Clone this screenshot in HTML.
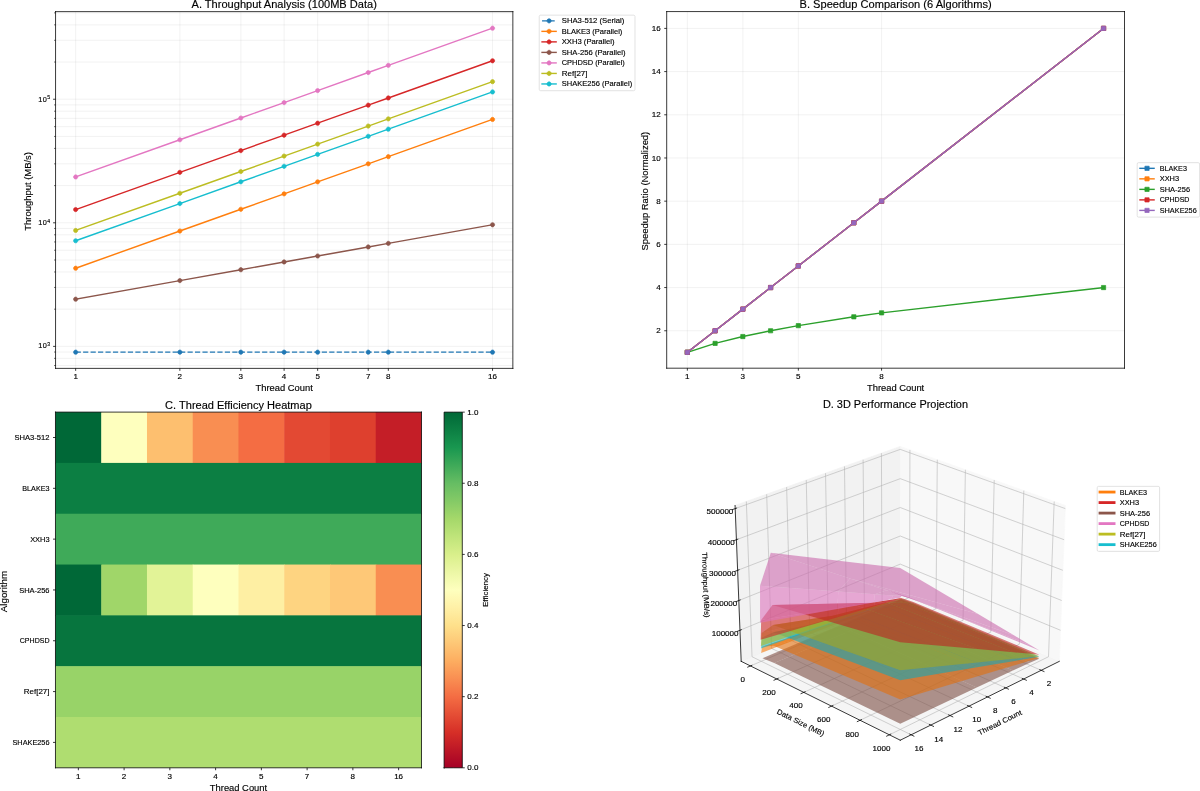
<!DOCTYPE html>
<html><head><meta charset="utf-8"><style>html,body{margin:0;padding:0;background:#fff;}svg{display:block;filter:blur(0.35px);}text{stroke:#000;stroke-width:0.2px;}</style></head><body>
<svg width="1200" height="791" viewBox="0 0 1705.514497 1124.218306" version="1.1">
 <defs>
  <style type="text/css">*{stroke-linejoin: round; stroke-linecap: butt}</style>
 </defs>
 <g id="figure_1">
  <g id="patch_1">
   <path d="M 0 1124.218306 
L 1705.514497 1124.218306 
L 1705.514497 0 
L 0 0 
z
" style="fill: #ffffff"/>
  </g>
  <g id="axes_1">
   <g id="patch_2">
    <path d="M 78.965321 523.564525 
L 728.894258 523.564525 
L 728.894258 16.529278 
L 78.965321 16.529278 
z
" style="fill: #ffffff"/>
   </g>
   <g id="matplotlib.axis_1">
    <g id="xtick_1">
     <g id="line2d_1">
      <path d="M 107.52386 523.564525 
L 107.52386 16.529278 
" clip-path="url(#p1c3994e8c0)" style="fill: none; stroke: #b0b0b0; stroke-opacity: 0.3; stroke-width: 0.8; stroke-linecap: square"/>
     </g>
     <g id="line2d_2">
      <defs>
       <path id="mcb6896031c" d="M 0 0 
L 0 3.5 
" style="stroke: #000000; stroke-width: 1.1"/>
      </defs>
      <g>
       <use href="#mcb6896031c" x="107.52386" y="523.564525" style="stroke: #000000; stroke-width: 1.1"/>
      </g>
     </g>
     <g id="text_1">
      <text style="font-size: 10.400px; font-family: 'Liberation Sans'; text-anchor: middle" x="107.52386" y="538.862963" transform="rotate(-0 107.52386 538.862963)" textLength="6.363" lengthAdjust="spacingAndGlyphs">1</text>
     </g>
    </g>
    <g id="xtick_2">
     <g id="line2d_3">
      <path d="M 255.649059 523.564525 
L 255.649059 16.529278 
" clip-path="url(#p1c3994e8c0)" style="fill: none; stroke: #b0b0b0; stroke-opacity: 0.3; stroke-width: 0.8; stroke-linecap: square"/>
     </g>
     <g id="line2d_4">
      <g>
       <use href="#mcb6896031c" x="255.649059" y="523.564525" style="stroke: #000000; stroke-width: 1.1"/>
      </g>
     </g>
     <g id="text_2">
      <text style="font-size: 10.400px; font-family: 'Liberation Sans'; text-anchor: middle" x="255.649059" y="538.862963" transform="rotate(-0 255.649059 538.862963)" textLength="6.363" lengthAdjust="spacingAndGlyphs">2</text>
     </g>
    </g>
    <g id="xtick_3">
     <g id="line2d_5">
      <path d="M 342.296746 523.564525 
L 342.296746 16.529278 
" clip-path="url(#p1c3994e8c0)" style="fill: none; stroke: #b0b0b0; stroke-opacity: 0.3; stroke-width: 0.8; stroke-linecap: square"/>
     </g>
     <g id="line2d_6">
      <g>
       <use href="#mcb6896031c" x="342.296746" y="523.564525" style="stroke: #000000; stroke-width: 1.1"/>
      </g>
     </g>
     <g id="text_3">
      <text style="font-size: 10.400px; font-family: 'Liberation Sans'; text-anchor: middle" x="342.296746" y="538.862963" transform="rotate(-0 342.296746 538.862963)" textLength="6.363" lengthAdjust="spacingAndGlyphs">3</text>
     </g>
    </g>
    <g id="xtick_4">
     <g id="line2d_7">
      <path d="M 403.774258 523.564525 
L 403.774258 16.529278 
" clip-path="url(#p1c3994e8c0)" style="fill: none; stroke: #b0b0b0; stroke-opacity: 0.3; stroke-width: 0.8; stroke-linecap: square"/>
     </g>
     <g id="line2d_8">
      <g>
       <use href="#mcb6896031c" x="403.774258" y="523.564525" style="stroke: #000000; stroke-width: 1.1"/>
      </g>
     </g>
     <g id="text_4">
      <text style="font-size: 10.400px; font-family: 'Liberation Sans'; text-anchor: middle" x="403.774258" y="538.862963" transform="rotate(-0 403.774258 538.862963)" textLength="6.363" lengthAdjust="spacingAndGlyphs">4</text>
     </g>
    </g>
    <g id="xtick_5">
     <g id="line2d_9">
      <path d="M 451.459921 523.564525 
L 451.459921 16.529278 
" clip-path="url(#p1c3994e8c0)" style="fill: none; stroke: #b0b0b0; stroke-opacity: 0.3; stroke-width: 0.8; stroke-linecap: square"/>
     </g>
     <g id="line2d_10">
      <g>
       <use href="#mcb6896031c" x="451.459921" y="523.564525" style="stroke: #000000; stroke-width: 1.1"/>
      </g>
     </g>
     <g id="text_5">
      <text style="font-size: 10.400px; font-family: 'Liberation Sans'; text-anchor: middle" x="451.459921" y="538.862963" transform="rotate(-0 451.459921 538.862963)" textLength="6.363" lengthAdjust="spacingAndGlyphs">5</text>
     </g>
    </g>
    <g id="xtick_6">
     <g id="line2d_11">
      <path d="M 523.363867 523.564525 
L 523.363867 16.529278 
" clip-path="url(#p1c3994e8c0)" style="fill: none; stroke: #b0b0b0; stroke-opacity: 0.3; stroke-width: 0.8; stroke-linecap: square"/>
     </g>
     <g id="line2d_12">
      <g>
       <use href="#mcb6896031c" x="523.363867" y="523.564525" style="stroke: #000000; stroke-width: 1.1"/>
      </g>
     </g>
     <g id="text_6">
      <text style="font-size: 10.400px; font-family: 'Liberation Sans'; text-anchor: middle" x="523.363867" y="538.862963" transform="rotate(-0 523.363867 538.862963)" textLength="6.363" lengthAdjust="spacingAndGlyphs">7</text>
     </g>
    </g>
    <g id="xtick_7">
     <g id="line2d_13">
      <path d="M 551.899457 523.564525 
L 551.899457 16.529278 
" clip-path="url(#p1c3994e8c0)" style="fill: none; stroke: #b0b0b0; stroke-opacity: 0.3; stroke-width: 0.8; stroke-linecap: square"/>
     </g>
     <g id="line2d_14">
      <g>
       <use href="#mcb6896031c" x="551.899457" y="523.564525" style="stroke: #000000; stroke-width: 1.1"/>
      </g>
     </g>
     <g id="text_7">
      <text style="font-size: 10.400px; font-family: 'Liberation Sans'; text-anchor: middle" x="551.899457" y="538.862963" transform="rotate(-0 551.899457 538.862963)" textLength="6.363" lengthAdjust="spacingAndGlyphs">8</text>
     </g>
    </g>
    <g id="xtick_8">
     <g id="line2d_15">
      <path d="M 700.024657 523.564525 
L 700.024657 16.529278 
" clip-path="url(#p1c3994e8c0)" style="fill: none; stroke: #b0b0b0; stroke-opacity: 0.3; stroke-width: 0.8; stroke-linecap: square"/>
     </g>
     <g id="line2d_16">
      <g>
       <use href="#mcb6896031c" x="700.024657" y="523.564525" style="stroke: #000000; stroke-width: 1.1"/>
      </g>
     </g>
     <g id="text_8">
      <text style="font-size: 10.400px; font-family: 'Liberation Sans'; text-anchor: middle" x="700.024657" y="538.862963" transform="rotate(-0 700.024657 538.862963)" textLength="12.725" lengthAdjust="spacingAndGlyphs">16</text>
     </g>
    </g>
    <g id="text_9">
     <text style="font-size: 12.480px; font-family: 'Liberation Sans'; text-anchor: middle" x="403.92979" y="555.910775" transform="rotate(-0 403.92979 555.910775)" textLength="81.403" lengthAdjust="spacingAndGlyphs">Thread Count</text>
    </g>
   </g>
   <g id="matplotlib.axis_2">
    <g id="ytick_1">
     <g id="line2d_17">
      <path d="M 78.965321 492.297861 
L 728.894258 492.297861 
" clip-path="url(#p1c3994e8c0)" style="fill: none; stroke: #b0b0b0; stroke-opacity: 0.3; stroke-width: 0.8; stroke-linecap: square"/>
     </g>
     <g id="line2d_18">
      <defs>
       <path id="mef8e797f4b" d="M 0 0 
L -3.5 0 
" style="stroke: #000000; stroke-width: 1.1"/>
      </defs>
      <g>
       <use href="#mef8e797f4b" x="78.965321" y="492.297861" style="stroke: #000000; stroke-width: 1.1"/>
      </g>
     </g>
     <g id="text_10">
      <!-- $\mathdefault{10^{3}}$ -->
      <g transform="translate(54.365321 496.09708)">
       <text>
        <tspan x="0" y="-0.976562" style="font-size: 10.400px; font-family: 'Liberation Sans'">1</tspan>
        <tspan x="6.362305" y="-0.976562" style="font-size: 10.400px; font-family: 'Liberation Sans'">0</tspan>
        <tspan x="12.820312" y="-4.804688" style="font-size: 7.280px; font-family: 'Liberation Sans'">3</tspan>
       </text>
      </g>
     </g>
    </g>
    <g id="ytick_2">
     <g id="line2d_19">
      <path d="M 78.965321 316.672044 
L 728.894258 316.672044 
" clip-path="url(#p1c3994e8c0)" style="fill: none; stroke: #b0b0b0; stroke-opacity: 0.3; stroke-width: 0.8; stroke-linecap: square"/>
     </g>
     <g id="line2d_20">
      <g>
       <use href="#mef8e797f4b" x="78.965321" y="316.672044" style="stroke: #000000; stroke-width: 1.1"/>
      </g>
     </g>
     <g id="text_11">
      <!-- $\mathdefault{10^{4}}$ -->
      <g transform="translate(54.365321 320.471262)">
       <text>
        <tspan x="0" y="-0.064063" style="font-size: 10.400px; font-family: 'Liberation Sans'">1</tspan>
        <tspan x="6.362305" y="-0.064063" style="font-size: 10.400px; font-family: 'Liberation Sans'">0</tspan>
        <tspan x="12.820312" y="-3.892188" style="font-size: 7.280px; font-family: 'Liberation Sans'">4</tspan>
       </text>
      </g>
     </g>
    </g>
    <g id="ytick_3">
     <g id="line2d_21">
      <path d="M 78.965321 141.046226 
L 728.894258 141.046226 
" clip-path="url(#p1c3994e8c0)" style="fill: none; stroke: #b0b0b0; stroke-opacity: 0.3; stroke-width: 0.8; stroke-linecap: square"/>
     </g>
     <g id="line2d_22">
      <g>
       <use href="#mef8e797f4b" x="78.965321" y="141.046226" style="stroke: #000000; stroke-width: 1.1"/>
      </g>
     </g>
     <g id="text_12">
      <!-- $\mathdefault{10^{5}}$ -->
      <g transform="translate(54.365321 144.845445)">
       <text>
        <tspan x="0" y="-0.064063" style="font-size: 10.400px; font-family: 'Liberation Sans'">1</tspan>
        <tspan x="6.362305" y="-0.064063" style="font-size: 10.400px; font-family: 'Liberation Sans'">0</tspan>
        <tspan x="12.820312" y="-3.892188" style="font-size: 7.280px; font-family: 'Liberation Sans'">5</tspan>
       </text>
      </g>
     </g>
    </g>
    <g id="ytick_4">
     <g id="line2d_23">
      <path d="M 78.965321 519.502644 
L 728.894258 519.502644 
" clip-path="url(#p1c3994e8c0)" style="fill: none; stroke: #b0b0b0; stroke-opacity: 0.3; stroke-width: 0.8; stroke-linecap: square"/>
     </g>
     <g id="line2d_24">
      <defs>
       <path id="m4e1941caa4" d="M 0 0 
L -2 0 
" style="stroke: #000000; stroke-width: 0.9"/>
      </defs>
      <g>
       <use href="#m4e1941caa4" x="78.965321" y="519.502644" style="stroke: #000000; stroke-width: 0.9"/>
      </g>
     </g>
    </g>
    <g id="ytick_5">
     <g id="line2d_25">
      <path d="M 78.965321 509.317761 
L 728.894258 509.317761 
" clip-path="url(#p1c3994e8c0)" style="fill: none; stroke: #b0b0b0; stroke-opacity: 0.3; stroke-width: 0.8; stroke-linecap: square"/>
     </g>
     <g id="line2d_26">
      <g>
       <use href="#m4e1941caa4" x="78.965321" y="509.317761" style="stroke: #000000; stroke-width: 0.9"/>
      </g>
     </g>
    </g>
    <g id="ytick_6">
     <g id="line2d_27">
      <path d="M 78.965321 500.334058 
L 728.894258 500.334058 
" clip-path="url(#p1c3994e8c0)" style="fill: none; stroke: #b0b0b0; stroke-opacity: 0.3; stroke-width: 0.8; stroke-linecap: square"/>
     </g>
     <g id="line2d_28">
      <g>
       <use href="#m4e1941caa4" x="78.965321" y="500.334058" style="stroke: #000000; stroke-width: 0.9"/>
      </g>
     </g>
    </g>
    <g id="ytick_7">
     <g id="line2d_29">
      <path d="M 78.965321 439.429222 
L 728.894258 439.429222 
" clip-path="url(#p1c3994e8c0)" style="fill: none; stroke: #b0b0b0; stroke-opacity: 0.3; stroke-width: 0.8; stroke-linecap: square"/>
     </g>
     <g id="line2d_30">
      <g>
       <use href="#m4e1941caa4" x="78.965321" y="439.429222" style="stroke: #000000; stroke-width: 0.9"/>
      </g>
     </g>
    </g>
    <g id="ytick_8">
     <g id="line2d_31">
      <path d="M 78.965321 408.503051 
L 728.894258 408.503051 
" clip-path="url(#p1c3994e8c0)" style="fill: none; stroke: #b0b0b0; stroke-opacity: 0.3; stroke-width: 0.8; stroke-linecap: square"/>
     </g>
     <g id="line2d_32">
      <g>
       <use href="#m4e1941caa4" x="78.965321" y="408.503051" style="stroke: #000000; stroke-width: 0.9"/>
      </g>
     </g>
    </g>
    <g id="ytick_9">
     <g id="line2d_33">
      <path d="M 78.965321 386.560583 
L 728.894258 386.560583 
" clip-path="url(#p1c3994e8c0)" style="fill: none; stroke: #b0b0b0; stroke-opacity: 0.3; stroke-width: 0.8; stroke-linecap: square"/>
     </g>
     <g id="line2d_34">
      <g>
       <use href="#m4e1941caa4" x="78.965321" y="386.560583" style="stroke: #000000; stroke-width: 0.9"/>
      </g>
     </g>
    </g>
    <g id="ytick_10">
     <g id="line2d_35">
      <path d="M 78.965321 369.540683 
L 728.894258 369.540683 
" clip-path="url(#p1c3994e8c0)" style="fill: none; stroke: #b0b0b0; stroke-opacity: 0.3; stroke-width: 0.8; stroke-linecap: square"/>
     </g>
     <g id="line2d_36">
      <g>
       <use href="#m4e1941caa4" x="78.965321" y="369.540683" style="stroke: #000000; stroke-width: 0.9"/>
      </g>
     </g>
    </g>
    <g id="ytick_11">
     <g id="line2d_37">
      <path d="M 78.965321 355.634412 
L 728.894258 355.634412 
" clip-path="url(#p1c3994e8c0)" style="fill: none; stroke: #b0b0b0; stroke-opacity: 0.3; stroke-width: 0.8; stroke-linecap: square"/>
     </g>
     <g id="line2d_38">
      <g>
       <use href="#m4e1941caa4" x="78.965321" y="355.634412" style="stroke: #000000; stroke-width: 0.9"/>
      </g>
     </g>
    </g>
    <g id="ytick_12">
     <g id="line2d_39">
      <path d="M 78.965321 343.876827 
L 728.894258 343.876827 
" clip-path="url(#p1c3994e8c0)" style="fill: none; stroke: #b0b0b0; stroke-opacity: 0.3; stroke-width: 0.8; stroke-linecap: square"/>
     </g>
     <g id="line2d_40">
      <g>
       <use href="#m4e1941caa4" x="78.965321" y="343.876827" style="stroke: #000000; stroke-width: 0.9"/>
      </g>
     </g>
    </g>
    <g id="ytick_13">
     <g id="line2d_41">
      <path d="M 78.965321 333.691944 
L 728.894258 333.691944 
" clip-path="url(#p1c3994e8c0)" style="fill: none; stroke: #b0b0b0; stroke-opacity: 0.3; stroke-width: 0.8; stroke-linecap: square"/>
     </g>
     <g id="line2d_42">
      <g>
       <use href="#m4e1941caa4" x="78.965321" y="333.691944" style="stroke: #000000; stroke-width: 0.9"/>
      </g>
     </g>
    </g>
    <g id="ytick_14">
     <g id="line2d_43">
      <path d="M 78.965321 324.70824 
L 728.894258 324.70824 
" clip-path="url(#p1c3994e8c0)" style="fill: none; stroke: #b0b0b0; stroke-opacity: 0.3; stroke-width: 0.8; stroke-linecap: square"/>
     </g>
     <g id="line2d_44">
      <g>
       <use href="#m4e1941caa4" x="78.965321" y="324.70824" style="stroke: #000000; stroke-width: 0.9"/>
      </g>
     </g>
    </g>
    <g id="ytick_15">
     <g id="line2d_45">
      <path d="M 78.965321 263.803405 
L 728.894258 263.803405 
" clip-path="url(#p1c3994e8c0)" style="fill: none; stroke: #b0b0b0; stroke-opacity: 0.3; stroke-width: 0.8; stroke-linecap: square"/>
     </g>
     <g id="line2d_46">
      <g>
       <use href="#m4e1941caa4" x="78.965321" y="263.803405" style="stroke: #000000; stroke-width: 0.9"/>
      </g>
     </g>
    </g>
    <g id="ytick_16">
     <g id="line2d_47">
      <path d="M 78.965321 232.877233 
L 728.894258 232.877233 
" clip-path="url(#p1c3994e8c0)" style="fill: none; stroke: #b0b0b0; stroke-opacity: 0.3; stroke-width: 0.8; stroke-linecap: square"/>
     </g>
     <g id="line2d_48">
      <g>
       <use href="#m4e1941caa4" x="78.965321" y="232.877233" style="stroke: #000000; stroke-width: 0.9"/>
      </g>
     </g>
    </g>
    <g id="ytick_17">
     <g id="line2d_49">
      <path d="M 78.965321 210.934766 
L 728.894258 210.934766 
" clip-path="url(#p1c3994e8c0)" style="fill: none; stroke: #b0b0b0; stroke-opacity: 0.3; stroke-width: 0.8; stroke-linecap: square"/>
     </g>
     <g id="line2d_50">
      <g>
       <use href="#m4e1941caa4" x="78.965321" y="210.934766" style="stroke: #000000; stroke-width: 0.9"/>
      </g>
     </g>
    </g>
    <g id="ytick_18">
     <g id="line2d_51">
      <path d="M 78.965321 193.914865 
L 728.894258 193.914865 
" clip-path="url(#p1c3994e8c0)" style="fill: none; stroke: #b0b0b0; stroke-opacity: 0.3; stroke-width: 0.8; stroke-linecap: square"/>
     </g>
     <g id="line2d_52">
      <g>
       <use href="#m4e1941caa4" x="78.965321" y="193.914865" style="stroke: #000000; stroke-width: 0.9"/>
      </g>
     </g>
    </g>
    <g id="ytick_19">
     <g id="line2d_53">
      <path d="M 78.965321 180.008594 
L 728.894258 180.008594 
" clip-path="url(#p1c3994e8c0)" style="fill: none; stroke: #b0b0b0; stroke-opacity: 0.3; stroke-width: 0.8; stroke-linecap: square"/>
     </g>
     <g id="line2d_54">
      <g>
       <use href="#m4e1941caa4" x="78.965321" y="180.008594" style="stroke: #000000; stroke-width: 0.9"/>
      </g>
     </g>
    </g>
    <g id="ytick_20">
     <g id="line2d_55">
      <path d="M 78.965321 168.25101 
L 728.894258 168.25101 
" clip-path="url(#p1c3994e8c0)" style="fill: none; stroke: #b0b0b0; stroke-opacity: 0.3; stroke-width: 0.8; stroke-linecap: square"/>
     </g>
     <g id="line2d_56">
      <g>
       <use href="#m4e1941caa4" x="78.965321" y="168.25101" style="stroke: #000000; stroke-width: 0.9"/>
      </g>
     </g>
    </g>
    <g id="ytick_21">
     <g id="line2d_57">
      <path d="M 78.965321 158.066127 
L 728.894258 158.066127 
" clip-path="url(#p1c3994e8c0)" style="fill: none; stroke: #b0b0b0; stroke-opacity: 0.3; stroke-width: 0.8; stroke-linecap: square"/>
     </g>
     <g id="line2d_58">
      <g>
       <use href="#m4e1941caa4" x="78.965321" y="158.066127" style="stroke: #000000; stroke-width: 0.9"/>
      </g>
     </g>
    </g>
    <g id="ytick_22">
     <g id="line2d_59">
      <path d="M 78.965321 149.082423 
L 728.894258 149.082423 
" clip-path="url(#p1c3994e8c0)" style="fill: none; stroke: #b0b0b0; stroke-opacity: 0.3; stroke-width: 0.8; stroke-linecap: square"/>
     </g>
     <g id="line2d_60">
      <g>
       <use href="#m4e1941caa4" x="78.965321" y="149.082423" style="stroke: #000000; stroke-width: 0.9"/>
      </g>
     </g>
    </g>
    <g id="ytick_23">
     <g id="line2d_61">
      <path d="M 78.965321 88.177587 
L 728.894258 88.177587 
" clip-path="url(#p1c3994e8c0)" style="fill: none; stroke: #b0b0b0; stroke-opacity: 0.3; stroke-width: 0.8; stroke-linecap: square"/>
     </g>
     <g id="line2d_62">
      <g>
       <use href="#m4e1941caa4" x="78.965321" y="88.177587" style="stroke: #000000; stroke-width: 0.9"/>
      </g>
     </g>
    </g>
    <g id="ytick_24">
     <g id="line2d_63">
      <path d="M 78.965321 57.251416 
L 728.894258 57.251416 
" clip-path="url(#p1c3994e8c0)" style="fill: none; stroke: #b0b0b0; stroke-opacity: 0.3; stroke-width: 0.8; stroke-linecap: square"/>
     </g>
     <g id="line2d_64">
      <g>
       <use href="#m4e1941caa4" x="78.965321" y="57.251416" style="stroke: #000000; stroke-width: 0.9"/>
      </g>
     </g>
    </g>
    <g id="ytick_25">
     <g id="line2d_65">
      <path d="M 78.965321 35.308948 
L 728.894258 35.308948 
" clip-path="url(#p1c3994e8c0)" style="fill: none; stroke: #b0b0b0; stroke-opacity: 0.3; stroke-width: 0.8; stroke-linecap: square"/>
     </g>
     <g id="line2d_66">
      <g>
       <use href="#m4e1941caa4" x="78.965321" y="35.308948" style="stroke: #000000; stroke-width: 0.9"/>
      </g>
     </g>
    </g>
    <g id="ytick_26">
     <g id="line2d_67">
      <path d="M 78.965321 18.289048 
L 728.894258 18.289048 
" clip-path="url(#p1c3994e8c0)" style="fill: none; stroke: #b0b0b0; stroke-opacity: 0.3; stroke-width: 0.8; stroke-linecap: square"/>
     </g>
     <g id="line2d_68">
      <g>
       <use href="#m4e1941caa4" x="78.965321" y="18.289048" style="stroke: #000000; stroke-width: 0.9"/>
      </g>
     </g>
    </g>
    <g id="text_13">
     <text style="font-size: 12.480px; font-family: 'Liberation Sans'; text-anchor: middle" x="44.069696" y="272.036669" transform="rotate(-90 44.069696 272.036669)" textLength="111.754" lengthAdjust="spacingAndGlyphs">Throughput (MB/s)</text>
    </g>
   </g>
   <g id="line2d_69">
    <path d="M 107.52386 500.503743 
L 255.649059 500.503743 
L 342.296746 500.503743 
L 403.774258 500.503743 
L 451.459921 500.503743 
L 523.363867 500.503743 
L 551.899457 500.503743 
L 700.024657 500.503743 
" clip-path="url(#p1c3994e8c0)" style="fill: none; stroke-dasharray: 7.4,3.2; stroke-dashoffset: 0; stroke: #1f77b4; stroke-width: 2"/>
    <defs>
     <path id="mf14c53ed57" d="M 0 3 
C 0.795609 3 1.55874 2.683901 2.12132 2.12132 
C 2.683901 1.55874 3 0.795609 3 0 
C 3 -0.795609 2.683901 -1.55874 2.12132 -2.12132 
C 1.55874 -2.683901 0.795609 -3 0 -3 
C -0.795609 -3 -1.55874 -2.683901 -2.12132 -2.12132 
C -2.683901 -1.55874 -3 -0.795609 -3 0 
C -3 0.795609 -2.683901 1.55874 -2.12132 2.12132 
C -1.55874 2.683901 -0.795609 3 0 3 
z
" style="stroke: #1f77b4"/>
    </defs>
    <g clip-path="url(#p1c3994e8c0)">
     <use href="#mf14c53ed57" x="107.52386" y="500.503743" style="fill: #1f77b4; stroke: #1f77b4"/>
     <use href="#mf14c53ed57" x="255.649059" y="500.503743" style="fill: #1f77b4; stroke: #1f77b4"/>
     <use href="#mf14c53ed57" x="342.296746" y="500.503743" style="fill: #1f77b4; stroke: #1f77b4"/>
     <use href="#mf14c53ed57" x="403.774258" y="500.503743" style="fill: #1f77b4; stroke: #1f77b4"/>
     <use href="#mf14c53ed57" x="451.459921" y="500.503743" style="fill: #1f77b4; stroke: #1f77b4"/>
     <use href="#mf14c53ed57" x="523.363867" y="500.503743" style="fill: #1f77b4; stroke: #1f77b4"/>
     <use href="#mf14c53ed57" x="551.899457" y="500.503743" style="fill: #1f77b4; stroke: #1f77b4"/>
     <use href="#mf14c53ed57" x="700.024657" y="500.503743" style="fill: #1f77b4; stroke: #1f77b4"/>
    </g>
   </g>
   <g id="line2d_70">
    <path d="M 107.52386 381.222032 
L 255.649059 328.353393 
L 342.296746 297.427222 
L 403.774258 275.484754 
L 451.459921 258.464854 
L 523.363867 232.800998 
L 551.899457 222.616115 
L 700.024657 169.747476 
" clip-path="url(#p1c3994e8c0)" style="fill: none; stroke: #ff7f0e; stroke-width: 2; stroke-linecap: square"/>
    <defs>
     <path id="mcd47077251" d="M 0 3 
C 0.795609 3 1.55874 2.683901 2.12132 2.12132 
C 2.683901 1.55874 3 0.795609 3 0 
C 3 -0.795609 2.683901 -1.55874 2.12132 -2.12132 
C 1.55874 -2.683901 0.795609 -3 0 -3 
C -0.795609 -3 -1.55874 -2.683901 -2.12132 -2.12132 
C -2.683901 -1.55874 -3 -0.795609 -3 0 
C -3 0.795609 -2.683901 1.55874 -2.12132 2.12132 
C -1.55874 2.683901 -0.795609 3 0 3 
z
" style="stroke: #ff7f0e"/>
    </defs>
    <g clip-path="url(#p1c3994e8c0)">
     <use href="#mcd47077251" x="107.52386" y="381.222032" style="fill: #ff7f0e; stroke: #ff7f0e"/>
     <use href="#mcd47077251" x="255.649059" y="328.353393" style="fill: #ff7f0e; stroke: #ff7f0e"/>
     <use href="#mcd47077251" x="342.296746" y="297.427222" style="fill: #ff7f0e; stroke: #ff7f0e"/>
     <use href="#mcd47077251" x="403.774258" y="275.484754" style="fill: #ff7f0e; stroke: #ff7f0e"/>
     <use href="#mcd47077251" x="451.459921" y="258.464854" style="fill: #ff7f0e; stroke: #ff7f0e"/>
     <use href="#mcd47077251" x="523.363867" y="232.800998" style="fill: #ff7f0e; stroke: #ff7f0e"/>
     <use href="#mcd47077251" x="551.899457" y="222.616115" style="fill: #ff7f0e; stroke: #ff7f0e"/>
     <use href="#mcd47077251" x="700.024657" y="169.747476" style="fill: #ff7f0e; stroke: #ff7f0e"/>
    </g>
   </g>
   <g id="line2d_71">
    <path d="M 107.52386 297.843205 
L 255.649059 244.974566 
L 342.296746 214.048395 
L 403.774258 192.105927 
L 451.459921 175.086027 
L 523.363867 149.422171 
L 551.899457 139.237288 
L 700.024657 86.368649 
" clip-path="url(#p1c3994e8c0)" style="fill: none; stroke: #d62728; stroke-width: 2; stroke-linecap: square"/>
    <defs>
     <path id="maca9aefc6d" d="M 0 3 
C 0.795609 3 1.55874 2.683901 2.12132 2.12132 
C 2.683901 1.55874 3 0.795609 3 0 
C 3 -0.795609 2.683901 -1.55874 2.12132 -2.12132 
C 1.55874 -2.683901 0.795609 -3 0 -3 
C -0.795609 -3 -1.55874 -2.683901 -2.12132 -2.12132 
C -2.683901 -1.55874 -3 -0.795609 -3 0 
C -3 0.795609 -2.683901 1.55874 -2.12132 2.12132 
C -1.55874 2.683901 -0.795609 3 0 3 
z
" style="stroke: #d62728"/>
    </defs>
    <g clip-path="url(#p1c3994e8c0)">
     <use href="#maca9aefc6d" x="107.52386" y="297.843205" style="fill: #d62728; stroke: #d62728"/>
     <use href="#maca9aefc6d" x="255.649059" y="244.974566" style="fill: #d62728; stroke: #d62728"/>
     <use href="#maca9aefc6d" x="342.296746" y="214.048395" style="fill: #d62728; stroke: #d62728"/>
     <use href="#maca9aefc6d" x="403.774258" y="192.105927" style="fill: #d62728; stroke: #d62728"/>
     <use href="#maca9aefc6d" x="451.459921" y="175.086027" style="fill: #d62728; stroke: #d62728"/>
     <use href="#maca9aefc6d" x="523.363867" y="149.422171" style="fill: #d62728; stroke: #d62728"/>
     <use href="#maca9aefc6d" x="551.899457" y="139.237288" style="fill: #d62728; stroke: #d62728"/>
     <use href="#maca9aefc6d" x="700.024657" y="86.368649" style="fill: #d62728; stroke: #d62728"/>
    </g>
   </g>
   <g id="line2d_72">
    <path d="M 107.52386 425.205806 
L 255.649059 398.771486 
L 342.296746 383.3084 
L 403.774258 372.337167 
L 451.459921 363.827217 
L 523.363867 350.995289 
L 551.899457 345.902847 
L 700.024657 319.468528 
" clip-path="url(#p1c3994e8c0)" style="fill: none; stroke: #8c564b; stroke-width: 2; stroke-linecap: square"/>
    <defs>
     <path id="m06e516c31b" d="M 0 3 
C 0.795609 3 1.55874 2.683901 2.12132 2.12132 
C 2.683901 1.55874 3 0.795609 3 0 
C 3 -0.795609 2.683901 -1.55874 2.12132 -2.12132 
C 1.55874 -2.683901 0.795609 -3 0 -3 
C -0.795609 -3 -1.55874 -2.683901 -2.12132 -2.12132 
C -2.683901 -1.55874 -3 -0.795609 -3 0 
C -3 0.795609 -2.683901 1.55874 -2.12132 2.12132 
C -1.55874 2.683901 -0.795609 3 0 3 
z
" style="stroke: #8c564b"/>
    </defs>
    <g clip-path="url(#p1c3994e8c0)">
     <use href="#m06e516c31b" x="107.52386" y="425.205806" style="fill: #8c564b; stroke: #8c564b"/>
     <use href="#m06e516c31b" x="255.649059" y="398.771486" style="fill: #8c564b; stroke: #8c564b"/>
     <use href="#m06e516c31b" x="342.296746" y="383.3084" style="fill: #8c564b; stroke: #8c564b"/>
     <use href="#m06e516c31b" x="403.774258" y="372.337167" style="fill: #8c564b; stroke: #8c564b"/>
     <use href="#m06e516c31b" x="451.459921" y="363.827217" style="fill: #8c564b; stroke: #8c564b"/>
     <use href="#m06e516c31b" x="523.363867" y="350.995289" style="fill: #8c564b; stroke: #8c564b"/>
     <use href="#m06e516c31b" x="551.899457" y="345.902847" style="fill: #8c564b; stroke: #8c564b"/>
     <use href="#m06e516c31b" x="700.024657" y="319.468528" style="fill: #8c564b; stroke: #8c564b"/>
    </g>
   </g>
   <g id="line2d_73">
    <path d="M 107.52386 251.502947 
L 255.649059 198.634308 
L 342.296746 167.708137 
L 403.774258 145.765669 
L 451.459921 128.745769 
L 523.363867 103.081913 
L 551.899457 92.89703 
L 700.024657 40.028391 
" clip-path="url(#p1c3994e8c0)" style="fill: none; stroke: #e377c2; stroke-width: 2; stroke-linecap: square"/>
    <defs>
     <path id="m5533a0fff0" d="M 0 3 
C 0.795609 3 1.55874 2.683901 2.12132 2.12132 
C 2.683901 1.55874 3 0.795609 3 0 
C 3 -0.795609 2.683901 -1.55874 2.12132 -2.12132 
C 1.55874 -2.683901 0.795609 -3 0 -3 
C -0.795609 -3 -1.55874 -2.683901 -2.12132 -2.12132 
C -2.683901 -1.55874 -3 -0.795609 -3 0 
C -3 0.795609 -2.683901 1.55874 -2.12132 2.12132 
C -1.55874 2.683901 -0.795609 3 0 3 
z
" style="stroke: #e377c2"/>
    </defs>
    <g clip-path="url(#p1c3994e8c0)">
     <use href="#m5533a0fff0" x="107.52386" y="251.502947" style="fill: #e377c2; stroke: #e377c2"/>
     <use href="#m5533a0fff0" x="255.649059" y="198.634308" style="fill: #e377c2; stroke: #e377c2"/>
     <use href="#m5533a0fff0" x="342.296746" y="167.708137" style="fill: #e377c2; stroke: #e377c2"/>
     <use href="#m5533a0fff0" x="403.774258" y="145.765669" style="fill: #e377c2; stroke: #e377c2"/>
     <use href="#m5533a0fff0" x="451.459921" y="128.745769" style="fill: #e377c2; stroke: #e377c2"/>
     <use href="#m5533a0fff0" x="523.363867" y="103.081913" style="fill: #e377c2; stroke: #e377c2"/>
     <use href="#m5533a0fff0" x="551.899457" y="92.89703" style="fill: #e377c2; stroke: #e377c2"/>
     <use href="#m5533a0fff0" x="700.024657" y="40.028391" style="fill: #e377c2; stroke: #e377c2"/>
    </g>
   </g>
   <g id="line2d_74">
    <path d="M 107.52386 327.55749 
L 255.649059 274.688851 
L 342.296746 243.76268 
L 403.774258 221.820212 
L 451.459921 204.800312 
L 523.363867 179.136456 
L 551.899457 168.951573 
L 700.024657 116.082934 
" clip-path="url(#p1c3994e8c0)" style="fill: none; stroke: #bcbd22; stroke-width: 2; stroke-linecap: square"/>
    <defs>
     <path id="md6b3f45b10" d="M 0 3 
C 0.795609 3 1.55874 2.683901 2.12132 2.12132 
C 2.683901 1.55874 3 0.795609 3 0 
C 3 -0.795609 2.683901 -1.55874 2.12132 -2.12132 
C 1.55874 -2.683901 0.795609 -3 0 -3 
C -0.795609 -3 -1.55874 -2.683901 -2.12132 -2.12132 
C -2.683901 -1.55874 -3 -0.795609 -3 0 
C -3 0.795609 -2.683901 1.55874 -2.12132 2.12132 
C -1.55874 2.683901 -0.795609 3 0 3 
z
" style="stroke: #bcbd22"/>
    </defs>
    <g clip-path="url(#p1c3994e8c0)">
     <use href="#md6b3f45b10" x="107.52386" y="327.55749" style="fill: #bcbd22; stroke: #bcbd22"/>
     <use href="#md6b3f45b10" x="255.649059" y="274.688851" style="fill: #bcbd22; stroke: #bcbd22"/>
     <use href="#md6b3f45b10" x="342.296746" y="243.76268" style="fill: #bcbd22; stroke: #bcbd22"/>
     <use href="#md6b3f45b10" x="403.774258" y="221.820212" style="fill: #bcbd22; stroke: #bcbd22"/>
     <use href="#md6b3f45b10" x="451.459921" y="204.800312" style="fill: #bcbd22; stroke: #bcbd22"/>
     <use href="#md6b3f45b10" x="523.363867" y="179.136456" style="fill: #bcbd22; stroke: #bcbd22"/>
     <use href="#md6b3f45b10" x="551.899457" y="168.951573" style="fill: #bcbd22; stroke: #bcbd22"/>
     <use href="#md6b3f45b10" x="700.024657" y="116.082934" style="fill: #bcbd22; stroke: #bcbd22"/>
    </g>
   </g>
   <g id="line2d_75">
    <path d="M 107.52386 342.153063 
L 255.649059 289.284424 
L 342.296746 258.358252 
L 403.774258 236.415785 
L 451.459921 219.395884 
L 523.363867 193.732029 
L 551.899457 183.547146 
L 700.024657 130.678507 
" clip-path="url(#p1c3994e8c0)" style="fill: none; stroke: #17becf; stroke-width: 2; stroke-linecap: square"/>
    <defs>
     <path id="mbed8b22115" d="M 0 3 
C 0.795609 3 1.55874 2.683901 2.12132 2.12132 
C 2.683901 1.55874 3 0.795609 3 0 
C 3 -0.795609 2.683901 -1.55874 2.12132 -2.12132 
C 1.55874 -2.683901 0.795609 -3 0 -3 
C -0.795609 -3 -1.55874 -2.683901 -2.12132 -2.12132 
C -2.683901 -1.55874 -3 -0.795609 -3 0 
C -3 0.795609 -2.683901 1.55874 -2.12132 2.12132 
C -1.55874 2.683901 -0.795609 3 0 3 
z
" style="stroke: #17becf"/>
    </defs>
    <g clip-path="url(#p1c3994e8c0)">
     <use href="#mbed8b22115" x="107.52386" y="342.153063" style="fill: #17becf; stroke: #17becf"/>
     <use href="#mbed8b22115" x="255.649059" y="289.284424" style="fill: #17becf; stroke: #17becf"/>
     <use href="#mbed8b22115" x="342.296746" y="258.358252" style="fill: #17becf; stroke: #17becf"/>
     <use href="#mbed8b22115" x="403.774258" y="236.415785" style="fill: #17becf; stroke: #17becf"/>
     <use href="#mbed8b22115" x="451.459921" y="219.395884" style="fill: #17becf; stroke: #17becf"/>
     <use href="#mbed8b22115" x="523.363867" y="193.732029" style="fill: #17becf; stroke: #17becf"/>
     <use href="#mbed8b22115" x="551.899457" y="183.547146" style="fill: #17becf; stroke: #17becf"/>
     <use href="#mbed8b22115" x="700.024657" y="130.678507" style="fill: #17becf; stroke: #17becf"/>
    </g>
   </g>
   <g id="patch_3">
    <path d="M 78.965321 523.564525 
L 78.965321 16.529278 
" style="fill: none; stroke: #000000; stroke-width: 1.1; stroke-linejoin: miter; stroke-linecap: square"/>
   </g>
   <g id="patch_4">
    <path d="M 728.894258 523.564525 
L 728.894258 16.529278 
" style="fill: none; stroke: #000000; stroke-width: 1.1; stroke-linejoin: miter; stroke-linecap: square"/>
   </g>
   <g id="patch_5">
    <path d="M 78.965321 523.564525 
L 728.894258 523.564525 
" style="fill: none; stroke: #000000; stroke-width: 1.1; stroke-linejoin: miter; stroke-linecap: square"/>
   </g>
   <g id="patch_6">
    <path d="M 78.965321 16.529278 
L 728.894258 16.529278 
" style="fill: none; stroke: #000000; stroke-width: 1.1; stroke-linejoin: miter; stroke-linecap: square"/>
   </g>
   <g id="text_14">
    <text style="font-size: 14.560px; font-family: 'Liberation Sans'; text-anchor: middle" x="403.92979" y="11.729278" transform="rotate(-0 403.92979 11.729278)" textLength="263.329" lengthAdjust="spacingAndGlyphs">A. Throughput Analysis (100MB Data)</text>
   </g>
   <g id="legend_1">
    <g id="patch_7">
     <path d="M 768.390705 128.896153 
L 900.479767 128.896153 
Q 902.479767 128.896153 902.479767 126.896153 
L 902.479767 23.529278 
Q 902.479767 21.529278 900.479767 21.529278 
L 768.390705 21.529278 
Q 766.390705 21.529278 766.390705 23.529278 
L 766.390705 126.896153 
Q 766.390705 128.896153 768.390705 128.896153 
z
" style="fill: #ffffff; opacity: 0.8; stroke: #cccccc; stroke-linejoin: miter"/>
    </g>
    <g id="line2d_76">
     <path d="M 770.390705 29.627715 
L 780.390705 29.627715 
L 790.390705 29.627715 
" style="fill: none; stroke-dasharray: 7.4,3.2; stroke-dashoffset: 0; stroke: #1f77b4; stroke-width: 2"/>
     <g>
      <use href="#mf14c53ed57" x="780.390705" y="29.627715" style="fill: #1f77b4; stroke: #1f77b4"/>
     </g>
    </g>
    <g id="text_15">
     <text style="font-size: 10.400px; font-family: 'Liberation Sans'; text-anchor: start" x="798.390705" y="33.127715" transform="rotate(-0 798.390705 33.127715)" textLength="89.045" lengthAdjust="spacingAndGlyphs">SHA3-512 (Serial)</text>
    </g>
    <g id="line2d_77">
     <path d="M 770.390705 44.57584 
L 780.390705 44.57584 
L 790.390705 44.57584 
" style="fill: none; stroke: #ff7f0e; stroke-width: 2; stroke-linecap: square"/>
     <g>
      <use href="#mcd47077251" x="780.390705" y="44.57584" style="fill: #ff7f0e; stroke: #ff7f0e"/>
     </g>
    </g>
    <g id="text_16">
     <text style="font-size: 10.400px; font-family: 'Liberation Sans'; text-anchor: start" x="798.390705" y="48.07584" transform="rotate(-0 798.390705 48.07584)" textLength="86.153" lengthAdjust="spacingAndGlyphs">BLAKE3 (Parallel)</text>
    </g>
    <g id="line2d_78">
     <path d="M 770.390705 59.523965 
L 780.390705 59.523965 
L 790.390705 59.523965 
" style="fill: none; stroke: #d62728; stroke-width: 2; stroke-linecap: square"/>
     <g>
      <use href="#maca9aefc6d" x="780.390705" y="59.523965" style="fill: #d62728; stroke: #d62728"/>
     </g>
    </g>
    <g id="text_17">
     <text style="font-size: 10.400px; font-family: 'Liberation Sans'; text-anchor: start" x="798.390705" y="63.023965" transform="rotate(-0 798.390705 63.023965)" textLength="74.998" lengthAdjust="spacingAndGlyphs">XXH3 (Parallel)</text>
    </g>
    <g id="line2d_79">
     <path d="M 770.390705 74.47209 
L 780.390705 74.47209 
L 790.390705 74.47209 
" style="fill: none; stroke: #8c564b; stroke-width: 2; stroke-linecap: square"/>
     <g>
      <use href="#m06e516c31b" x="780.390705" y="74.47209" style="fill: #8c564b; stroke: #8c564b"/>
     </g>
    </g>
    <g id="text_18">
     <text style="font-size: 10.400px; font-family: 'Liberation Sans'; text-anchor: start" x="798.390705" y="77.97209" transform="rotate(-0 798.390705 77.97209)" textLength="90.595" lengthAdjust="spacingAndGlyphs">SHA-256 (Parallel)</text>
    </g>
    <g id="line2d_80">
     <path d="M 770.390705 89.420215 
L 780.390705 89.420215 
L 790.390705 89.420215 
" style="fill: none; stroke: #e377c2; stroke-width: 2; stroke-linecap: square"/>
     <g>
      <use href="#m5533a0fff0" x="780.390705" y="89.420215" style="fill: #e377c2; stroke: #e377c2"/>
     </g>
    </g>
    <g id="text_19">
     <text style="font-size: 10.400px; font-family: 'Liberation Sans'; text-anchor: start" x="798.390705" y="92.920215" transform="rotate(-0 798.390705 92.920215)" textLength="89.697" lengthAdjust="spacingAndGlyphs">CPHDSD (Parallel)</text>
    </g>
    <g id="line2d_81">
     <path d="M 770.390705 104.36834 
L 780.390705 104.36834 
L 790.390705 104.36834 
" style="fill: none; stroke: #bcbd22; stroke-width: 2; stroke-linecap: square"/>
     <g>
      <use href="#md6b3f45b10" x="780.390705" y="104.36834" style="fill: #bcbd22; stroke: #bcbd22"/>
     </g>
    </g>
    <g id="text_20">
     <text style="font-size: 10.400px; font-family: 'Liberation Sans'; text-anchor: start" x="798.390705" y="107.86834" transform="rotate(-0 798.390705 107.86834)" textLength="36.700" lengthAdjust="spacingAndGlyphs">Ref[27]</text>
    </g>
    <g id="line2d_82">
     <path d="M 770.390705 119.316465 
L 780.390705 119.316465 
L 790.390705 119.316465 
" style="fill: none; stroke: #17becf; stroke-width: 2; stroke-linecap: square"/>
     <g>
      <use href="#mbed8b22115" x="780.390705" y="119.316465" style="fill: #17becf; stroke: #17becf"/>
     </g>
    </g>
    <g id="text_21">
     <text style="font-size: 10.400px; font-family: 'Liberation Sans'; text-anchor: start" x="798.390705" y="122.816465" transform="rotate(-0 798.390705 122.816465)" textLength="100.089" lengthAdjust="spacingAndGlyphs">SHAKE256 (Parallel)</text>
    </g>
   </g>
  </g>
  <g id="axes_2">
   <g id="patch_8">
    <path d="M 947.555429 523.308698 
L 1598.20921 523.308698 
L 1598.20921 16.444002 
L 947.555429 16.444002 
z
" style="fill: #ffffff"/>
   </g>
   <g id="matplotlib.axis_3">
    <g id="xtick_9">
     <g id="line2d_83">
      <path d="M 976.903309 523.308698 
L 976.903309 16.444002 
" clip-path="url(#pcee9055a3c)" style="fill: none; stroke: #b0b0b0; stroke-opacity: 0.3; stroke-width: 0.8; stroke-linecap: square"/>
     </g>
     <g id="line2d_84">
      <g>
       <use href="#mcb6896031c" x="976.903309" y="523.308698" style="stroke: #000000; stroke-width: 1.1"/>
      </g>
     </g>
     <g id="text_22">
      <text style="font-size: 10.400px; font-family: 'Liberation Sans'; text-anchor: middle" x="976.903309" y="538.607136" transform="rotate(-0 976.903309 538.607136)" textLength="6.363" lengthAdjust="spacingAndGlyphs">1</text>
     </g>
    </g>
    <g id="xtick_10">
     <g id="line2d_85">
      <path d="M 1055.774258 523.308698 
L 1055.774258 16.444002 
" clip-path="url(#pcee9055a3c)" style="fill: none; stroke: #b0b0b0; stroke-opacity: 0.3; stroke-width: 0.8; stroke-linecap: square"/>
     </g>
     <g id="line2d_86">
      <g>
       <use href="#mcb6896031c" x="1055.774258" y="523.308698" style="stroke: #000000; stroke-width: 1.1"/>
      </g>
     </g>
     <g id="text_23">
      <text style="font-size: 10.400px; font-family: 'Liberation Sans'; text-anchor: middle" x="1055.774258" y="538.607136" transform="rotate(-0 1055.774258 538.607136)" textLength="6.363" lengthAdjust="spacingAndGlyphs">3</text>
     </g>
    </g>
    <g id="xtick_11">
     <g id="line2d_87">
      <path d="M 1134.645207 523.308698 
L 1134.645207 16.444002 
" clip-path="url(#pcee9055a3c)" style="fill: none; stroke: #b0b0b0; stroke-opacity: 0.3; stroke-width: 0.8; stroke-linecap: square"/>
     </g>
     <g id="line2d_88">
      <g>
       <use href="#mcb6896031c" x="1134.645207" y="523.308698" style="stroke: #000000; stroke-width: 1.1"/>
      </g>
     </g>
     <g id="text_24">
      <text style="font-size: 10.400px; font-family: 'Liberation Sans'; text-anchor: middle" x="1134.645207" y="538.607136" transform="rotate(-0 1134.645207 538.607136)" textLength="6.363" lengthAdjust="spacingAndGlyphs">5</text>
     </g>
    </g>
    <g id="xtick_12">
     <g id="line2d_89">
      <path d="M 1252.951631 523.308698 
L 1252.951631 16.444002 
" clip-path="url(#pcee9055a3c)" style="fill: none; stroke: #b0b0b0; stroke-opacity: 0.3; stroke-width: 0.8; stroke-linecap: square"/>
     </g>
     <g id="line2d_90">
      <g>
       <use href="#mcb6896031c" x="1252.951631" y="523.308698" style="stroke: #000000; stroke-width: 1.1"/>
      </g>
     </g>
     <g id="text_25">
      <text style="font-size: 10.400px; font-family: 'Liberation Sans'; text-anchor: middle" x="1252.951631" y="538.607136" transform="rotate(-0 1252.951631 538.607136)" textLength="6.363" lengthAdjust="spacingAndGlyphs">8</text>
     </g>
    </g>
    <g id="text_26">
     <text style="font-size: 12.480px; font-family: 'Liberation Sans'; text-anchor: middle" x="1272.882319" y="555.654948" transform="rotate(-0 1272.882319 555.654948)" textLength="81.403" lengthAdjust="spacingAndGlyphs">Thread Count</text>
    </g>
   </g>
   <g id="matplotlib.axis_4">
    <g id="ytick_27">
     <g id="line2d_91">
      <path d="M 947.555429 470.086508 
L 1598.20921 470.086508 
" clip-path="url(#pcee9055a3c)" style="fill: none; stroke: #b0b0b0; stroke-opacity: 0.3; stroke-width: 0.8; stroke-linecap: square"/>
     </g>
     <g id="line2d_92">
      <g>
       <use href="#mef8e797f4b" x="947.555429" y="470.086508" style="stroke: #000000; stroke-width: 1.1"/>
      </g>
     </g>
     <g id="text_27">
      <text style="font-size: 10.400px; font-family: 'Liberation Sans'; text-anchor: end" x="940.555429" y="473.885727" transform="translate(-1.42 0) rotate(-0 940.555429 473.885727)" textLength="6.363" lengthAdjust="spacingAndGlyphs">2</text>
     </g>
    </g>
    <g id="ytick_28">
     <g id="line2d_93">
      <path d="M 947.555429 408.696359 
L 1598.20921 408.696359 
" clip-path="url(#pcee9055a3c)" style="fill: none; stroke: #b0b0b0; stroke-opacity: 0.3; stroke-width: 0.8; stroke-linecap: square"/>
     </g>
     <g id="line2d_94">
      <g>
       <use href="#mef8e797f4b" x="947.555429" y="408.696359" style="stroke: #000000; stroke-width: 1.1"/>
      </g>
     </g>
     <g id="text_28">
      <text style="font-size: 10.400px; font-family: 'Liberation Sans'; text-anchor: end" x="940.555429" y="412.495578" transform="translate(-1.42 0) rotate(-0 940.555429 412.495578)" textLength="6.363" lengthAdjust="spacingAndGlyphs">4</text>
     </g>
    </g>
    <g id="ytick_29">
     <g id="line2d_95">
      <path d="M 947.555429 347.30621 
L 1598.20921 347.30621 
" clip-path="url(#pcee9055a3c)" style="fill: none; stroke: #b0b0b0; stroke-opacity: 0.3; stroke-width: 0.8; stroke-linecap: square"/>
     </g>
     <g id="line2d_96">
      <g>
       <use href="#mef8e797f4b" x="947.555429" y="347.30621" style="stroke: #000000; stroke-width: 1.1"/>
      </g>
     </g>
     <g id="text_29">
      <text style="font-size: 10.400px; font-family: 'Liberation Sans'; text-anchor: end" x="940.555429" y="351.105429" transform="translate(-1.42 0) rotate(-0 940.555429 351.105429)" textLength="6.363" lengthAdjust="spacingAndGlyphs">6</text>
     </g>
    </g>
    <g id="ytick_30">
     <g id="line2d_97">
      <path d="M 947.555429 285.916061 
L 1598.20921 285.916061 
" clip-path="url(#pcee9055a3c)" style="fill: none; stroke: #b0b0b0; stroke-opacity: 0.3; stroke-width: 0.8; stroke-linecap: square"/>
     </g>
     <g id="line2d_98">
      <g>
       <use href="#mef8e797f4b" x="947.555429" y="285.916061" style="stroke: #000000; stroke-width: 1.1"/>
      </g>
     </g>
     <g id="text_30">
      <text style="font-size: 10.400px; font-family: 'Liberation Sans'; text-anchor: end" x="940.555429" y="289.71528" transform="translate(-1.42 0) rotate(-0 940.555429 289.71528)" textLength="6.363" lengthAdjust="spacingAndGlyphs">8</text>
     </g>
    </g>
    <g id="ytick_31">
     <g id="line2d_99">
      <path d="M 947.555429 224.525912 
L 1598.20921 224.525912 
" clip-path="url(#pcee9055a3c)" style="fill: none; stroke: #b0b0b0; stroke-opacity: 0.3; stroke-width: 0.8; stroke-linecap: square"/>
     </g>
     <g id="line2d_100">
      <g>
       <use href="#mef8e797f4b" x="947.555429" y="224.525912" style="stroke: #000000; stroke-width: 1.1"/>
      </g>
     </g>
     <g id="text_31">
      <text style="font-size: 10.400px; font-family: 'Liberation Sans'; text-anchor: end" x="940.555429" y="228.325131" transform="translate(-1.42 0) rotate(-0 940.555429 228.325131)" textLength="12.725" lengthAdjust="spacingAndGlyphs">10</text>
     </g>
    </g>
    <g id="ytick_32">
     <g id="line2d_101">
      <path d="M 947.555429 163.135763 
L 1598.20921 163.135763 
" clip-path="url(#pcee9055a3c)" style="fill: none; stroke: #b0b0b0; stroke-opacity: 0.3; stroke-width: 0.8; stroke-linecap: square"/>
     </g>
     <g id="line2d_102">
      <g>
       <use href="#mef8e797f4b" x="947.555429" y="163.135763" style="stroke: #000000; stroke-width: 1.1"/>
      </g>
     </g>
     <g id="text_32">
      <text style="font-size: 10.400px; font-family: 'Liberation Sans'; text-anchor: end" x="940.555429" y="166.934982" transform="translate(-1.42 0) rotate(-0 940.555429 166.934982)" textLength="12.725" lengthAdjust="spacingAndGlyphs">12</text>
     </g>
    </g>
    <g id="ytick_33">
     <g id="line2d_103">
      <path d="M 947.555429 101.745614 
L 1598.20921 101.745614 
" clip-path="url(#pcee9055a3c)" style="fill: none; stroke: #b0b0b0; stroke-opacity: 0.3; stroke-width: 0.8; stroke-linecap: square"/>
     </g>
     <g id="line2d_104">
      <g>
       <use href="#mef8e797f4b" x="947.555429" y="101.745614" style="stroke: #000000; stroke-width: 1.1"/>
      </g>
     </g>
     <g id="text_33">
      <text style="font-size: 10.400px; font-family: 'Liberation Sans'; text-anchor: end" x="940.555429" y="105.544833" transform="translate(-1.42 0) rotate(-0 940.555429 105.544833)" textLength="12.725" lengthAdjust="spacingAndGlyphs">14</text>
     </g>
    </g>
    <g id="ytick_34">
     <g id="line2d_105">
      <path d="M 947.555429 40.355465 
L 1598.20921 40.355465 
" clip-path="url(#pcee9055a3c)" style="fill: none; stroke: #b0b0b0; stroke-opacity: 0.3; stroke-width: 0.8; stroke-linecap: square"/>
     </g>
     <g id="line2d_106">
      <g>
       <use href="#mef8e797f4b" x="947.555429" y="40.355465" style="stroke: #000000; stroke-width: 1.1"/>
      </g>
     </g>
     <g id="text_34">
      <text style="font-size: 10.400px; font-family: 'Liberation Sans'; text-anchor: end" x="940.555429" y="44.154684" transform="translate(-1.42 0) rotate(-0 940.555429 44.154684)" textLength="12.725" lengthAdjust="spacingAndGlyphs">16</text>
     </g>
    </g>
    <g id="text_35">
     <text style="font-size: 12.480px; font-family: 'Liberation Sans'; text-anchor: middle" x="921.334804" y="271.582008" transform="rotate(-90 921.334804 271.582008)" textLength="168.692" lengthAdjust="spacingAndGlyphs">Speedup Ratio (Normalized)</text>
    </g>
   </g>
   <g id="line2d_107">
    <path d="M 976.903309 500.781583 
L 1016.338784 470.086508 
L 1055.774258 439.391434 
L 1095.209733 408.696359 
L 1134.645207 378.001285 
L 1213.516156 316.611136 
L 1252.951631 285.916061 
L 1568.435427 40.355465 
" clip-path="url(#pcee9055a3c)" style="fill: none; stroke: #1f77b4; stroke-width: 2; stroke-linecap: square"/>
    <defs>
     <path id="m4452cb8900" d="M -3 3 
L 3 3 
L 3 -3 
L -3 -3 
z
" style="stroke: #1f77b4; stroke-linejoin: miter"/>
    </defs>
    <g clip-path="url(#pcee9055a3c)">
     <use href="#m4452cb8900" x="976.903309" y="500.781583" style="fill: #1f77b4; stroke: #1f77b4; stroke-linejoin: miter"/>
     <use href="#m4452cb8900" x="1016.338784" y="470.086508" style="fill: #1f77b4; stroke: #1f77b4; stroke-linejoin: miter"/>
     <use href="#m4452cb8900" x="1055.774258" y="439.391434" style="fill: #1f77b4; stroke: #1f77b4; stroke-linejoin: miter"/>
     <use href="#m4452cb8900" x="1095.209733" y="408.696359" style="fill: #1f77b4; stroke: #1f77b4; stroke-linejoin: miter"/>
     <use href="#m4452cb8900" x="1134.645207" y="378.001285" style="fill: #1f77b4; stroke: #1f77b4; stroke-linejoin: miter"/>
     <use href="#m4452cb8900" x="1213.516156" y="316.611136" style="fill: #1f77b4; stroke: #1f77b4; stroke-linejoin: miter"/>
     <use href="#m4452cb8900" x="1252.951631" y="285.916061" style="fill: #1f77b4; stroke: #1f77b4; stroke-linejoin: miter"/>
     <use href="#m4452cb8900" x="1568.435427" y="40.355465" style="fill: #1f77b4; stroke: #1f77b4; stroke-linejoin: miter"/>
    </g>
   </g>
   <g id="line2d_108">
    <path d="M 976.903309 500.781583 
L 1016.338784 470.086508 
L 1055.774258 439.391434 
L 1095.209733 408.696359 
L 1134.645207 378.001285 
L 1213.516156 316.611136 
L 1252.951631 285.916061 
L 1568.435427 40.355465 
" clip-path="url(#pcee9055a3c)" style="fill: none; stroke: #ff7f0e; stroke-width: 2; stroke-linecap: square"/>
    <defs>
     <path id="m6a425e9468" d="M -3 3 
L 3 3 
L 3 -3 
L -3 -3 
z
" style="stroke: #ff7f0e; stroke-linejoin: miter"/>
    </defs>
    <g clip-path="url(#pcee9055a3c)">
     <use href="#m6a425e9468" x="976.903309" y="500.781583" style="fill: #ff7f0e; stroke: #ff7f0e; stroke-linejoin: miter"/>
     <use href="#m6a425e9468" x="1016.338784" y="470.086508" style="fill: #ff7f0e; stroke: #ff7f0e; stroke-linejoin: miter"/>
     <use href="#m6a425e9468" x="1055.774258" y="439.391434" style="fill: #ff7f0e; stroke: #ff7f0e; stroke-linejoin: miter"/>
     <use href="#m6a425e9468" x="1095.209733" y="408.696359" style="fill: #ff7f0e; stroke: #ff7f0e; stroke-linejoin: miter"/>
     <use href="#m6a425e9468" x="1134.645207" y="378.001285" style="fill: #ff7f0e; stroke: #ff7f0e; stroke-linejoin: miter"/>
     <use href="#m6a425e9468" x="1213.516156" y="316.611136" style="fill: #ff7f0e; stroke: #ff7f0e; stroke-linejoin: miter"/>
     <use href="#m6a425e9468" x="1252.951631" y="285.916061" style="fill: #ff7f0e; stroke: #ff7f0e; stroke-linejoin: miter"/>
     <use href="#m6a425e9468" x="1568.435427" y="40.355465" style="fill: #ff7f0e; stroke: #ff7f0e; stroke-linejoin: miter"/>
    </g>
   </g>
   <g id="line2d_109">
    <path d="M 976.903309 500.781583 
L 1016.338784 488.067267 
L 1055.774258 478.311229 
L 1095.209733 470.086508 
L 1134.645207 462.840384 
L 1213.516156 450.265124 
L 1252.951631 444.657876 
L 1568.435427 408.696359 
" clip-path="url(#pcee9055a3c)" style="fill: none; stroke: #2ca02c; stroke-width: 2; stroke-linecap: square"/>
    <defs>
     <path id="m0854537f5d" d="M -3 3 
L 3 3 
L 3 -3 
L -3 -3 
z
" style="stroke: #2ca02c; stroke-linejoin: miter"/>
    </defs>
    <g clip-path="url(#pcee9055a3c)">
     <use href="#m0854537f5d" x="976.903309" y="500.781583" style="fill: #2ca02c; stroke: #2ca02c; stroke-linejoin: miter"/>
     <use href="#m0854537f5d" x="1016.338784" y="488.067267" style="fill: #2ca02c; stroke: #2ca02c; stroke-linejoin: miter"/>
     <use href="#m0854537f5d" x="1055.774258" y="478.311229" style="fill: #2ca02c; stroke: #2ca02c; stroke-linejoin: miter"/>
     <use href="#m0854537f5d" x="1095.209733" y="470.086508" style="fill: #2ca02c; stroke: #2ca02c; stroke-linejoin: miter"/>
     <use href="#m0854537f5d" x="1134.645207" y="462.840384" style="fill: #2ca02c; stroke: #2ca02c; stroke-linejoin: miter"/>
     <use href="#m0854537f5d" x="1213.516156" y="450.265124" style="fill: #2ca02c; stroke: #2ca02c; stroke-linejoin: miter"/>
     <use href="#m0854537f5d" x="1252.951631" y="444.657876" style="fill: #2ca02c; stroke: #2ca02c; stroke-linejoin: miter"/>
     <use href="#m0854537f5d" x="1568.435427" y="408.696359" style="fill: #2ca02c; stroke: #2ca02c; stroke-linejoin: miter"/>
    </g>
   </g>
   <g id="line2d_110">
    <path d="M 976.903309 500.781583 
L 1016.338784 470.086508 
L 1055.774258 439.391434 
L 1095.209733 408.696359 
L 1134.645207 378.001285 
L 1213.516156 316.611136 
L 1252.951631 285.916061 
L 1568.435427 40.355465 
" clip-path="url(#pcee9055a3c)" style="fill: none; stroke: #d62728; stroke-width: 2; stroke-linecap: square"/>
    <defs>
     <path id="m11aa431ba9" d="M -3 3 
L 3 3 
L 3 -3 
L -3 -3 
z
" style="stroke: #d62728; stroke-linejoin: miter"/>
    </defs>
    <g clip-path="url(#pcee9055a3c)">
     <use href="#m11aa431ba9" x="976.903309" y="500.781583" style="fill: #d62728; stroke: #d62728; stroke-linejoin: miter"/>
     <use href="#m11aa431ba9" x="1016.338784" y="470.086508" style="fill: #d62728; stroke: #d62728; stroke-linejoin: miter"/>
     <use href="#m11aa431ba9" x="1055.774258" y="439.391434" style="fill: #d62728; stroke: #d62728; stroke-linejoin: miter"/>
     <use href="#m11aa431ba9" x="1095.209733" y="408.696359" style="fill: #d62728; stroke: #d62728; stroke-linejoin: miter"/>
     <use href="#m11aa431ba9" x="1134.645207" y="378.001285" style="fill: #d62728; stroke: #d62728; stroke-linejoin: miter"/>
     <use href="#m11aa431ba9" x="1213.516156" y="316.611136" style="fill: #d62728; stroke: #d62728; stroke-linejoin: miter"/>
     <use href="#m11aa431ba9" x="1252.951631" y="285.916061" style="fill: #d62728; stroke: #d62728; stroke-linejoin: miter"/>
     <use href="#m11aa431ba9" x="1568.435427" y="40.355465" style="fill: #d62728; stroke: #d62728; stroke-linejoin: miter"/>
    </g>
   </g>
   <g id="line2d_111">
    <path d="M 976.903309 500.781583 
L 1016.338784 470.086508 
L 1055.774258 439.391434 
L 1095.209733 408.696359 
L 1134.645207 378.001285 
L 1213.516156 316.611136 
L 1252.951631 285.916061 
L 1568.435427 40.355465 
" clip-path="url(#pcee9055a3c)" style="fill: none; stroke: #9467bd; stroke-width: 2; stroke-linecap: square"/>
    <defs>
     <path id="mce78e5a5ae" d="M -3 3 
L 3 3 
L 3 -3 
L -3 -3 
z
" style="stroke: #9467bd; stroke-linejoin: miter"/>
    </defs>
    <g clip-path="url(#pcee9055a3c)">
     <use href="#mce78e5a5ae" x="976.903309" y="500.781583" style="fill: #9467bd; stroke: #9467bd; stroke-linejoin: miter"/>
     <use href="#mce78e5a5ae" x="1016.338784" y="470.086508" style="fill: #9467bd; stroke: #9467bd; stroke-linejoin: miter"/>
     <use href="#mce78e5a5ae" x="1055.774258" y="439.391434" style="fill: #9467bd; stroke: #9467bd; stroke-linejoin: miter"/>
     <use href="#mce78e5a5ae" x="1095.209733" y="408.696359" style="fill: #9467bd; stroke: #9467bd; stroke-linejoin: miter"/>
     <use href="#mce78e5a5ae" x="1134.645207" y="378.001285" style="fill: #9467bd; stroke: #9467bd; stroke-linejoin: miter"/>
     <use href="#mce78e5a5ae" x="1213.516156" y="316.611136" style="fill: #9467bd; stroke: #9467bd; stroke-linejoin: miter"/>
     <use href="#mce78e5a5ae" x="1252.951631" y="285.916061" style="fill: #9467bd; stroke: #9467bd; stroke-linejoin: miter"/>
     <use href="#mce78e5a5ae" x="1568.435427" y="40.355465" style="fill: #9467bd; stroke: #9467bd; stroke-linejoin: miter"/>
    </g>
   </g>
   <g id="patch_9">
    <path d="M 947.555429 523.308698 
L 947.555429 16.444002 
" style="fill: none; stroke: #000000; stroke-width: 1.1; stroke-linejoin: miter; stroke-linecap: square"/>
   </g>
   <g id="patch_10">
    <path d="M 1598.20921 523.308698 
L 1598.20921 16.444002 
" style="fill: none; stroke: #000000; stroke-width: 1.1; stroke-linejoin: miter; stroke-linecap: square"/>
   </g>
   <g id="patch_11">
    <path d="M 947.555429 523.308698 
L 1598.20921 523.308698 
" style="fill: none; stroke: #000000; stroke-width: 1.1; stroke-linejoin: miter; stroke-linecap: square"/>
   </g>
   <g id="patch_12">
    <path d="M 947.555429 16.444002 
L 1598.20921 16.444002 
" style="fill: none; stroke: #000000; stroke-width: 1.1; stroke-linejoin: miter; stroke-linecap: square"/>
   </g>
   <g id="text_36">
    <text style="font-size: 14.560px; font-family: 'Liberation Sans'; text-anchor: middle" x="1272.882319" y="11.644002" transform="rotate(-0 1272.882319 11.644002)" textLength="273.015" lengthAdjust="spacingAndGlyphs">B. Speedup Comparison (6 Algorithms)</text>
   </g>
   <g id="legend_2">
    <g id="patch_13">
     <path d="M 1618.222285 308.611663 
L 1702.895723 308.611663 
Q 1704.895723 308.611663 1704.895723 306.611663 
L 1704.895723 233.141038 
Q 1704.895723 231.141038 1702.895723 231.141038 
L 1618.222285 231.141038 
Q 1616.222285 231.141038 1616.222285 233.141038 
L 1616.222285 306.611663 
Q 1616.222285 308.611663 1618.222285 308.611663 
z
" style="fill: #ffffff; opacity: 0.8; stroke: #cccccc; stroke-linejoin: miter"/>
    </g>
    <g id="line2d_112">
     <path d="M 1620.222285 239.239475 
L 1630.222285 239.239475 
L 1640.222285 239.239475 
" style="fill: none; stroke: #1f77b4; stroke-width: 2; stroke-linecap: square"/>
     <g>
      <use href="#m4452cb8900" x="1630.222285" y="239.239475" style="fill: #1f77b4; stroke: #1f77b4; stroke-linejoin: miter"/>
     </g>
    </g>
    <g id="text_37">
     <text style="font-size: 10.400px; font-family: 'Liberation Sans'; text-anchor: start" x="1648.222285" y="242.739475" transform="rotate(-0 1648.222285 242.739475)" textLength="38.738" lengthAdjust="spacingAndGlyphs">BLAKE3</text>
    </g>
    <g id="line2d_113">
     <path d="M 1620.222285 254.1876 
L 1630.222285 254.1876 
L 1640.222285 254.1876 
" style="fill: none; stroke: #ff7f0e; stroke-width: 2; stroke-linecap: square"/>
     <g>
      <use href="#m6a425e9468" x="1630.222285" y="254.1876" style="fill: #ff7f0e; stroke: #ff7f0e; stroke-linejoin: miter"/>
     </g>
    </g>
    <g id="text_38">
     <text style="font-size: 10.400px; font-family: 'Liberation Sans'; text-anchor: start" x="1648.222285" y="257.6876" transform="rotate(-0 1648.222285 257.6876)" textLength="27.583" lengthAdjust="spacingAndGlyphs">XXH3</text>
    </g>
    <g id="line2d_114">
     <path d="M 1620.222285 269.135725 
L 1630.222285 269.135725 
L 1640.222285 269.135725 
" style="fill: none; stroke: #2ca02c; stroke-width: 2; stroke-linecap: square"/>
     <g>
      <use href="#m0854537f5d" x="1630.222285" y="269.135725" style="fill: #2ca02c; stroke: #2ca02c; stroke-linejoin: miter"/>
     </g>
    </g>
    <g id="text_39">
     <text style="font-size: 10.400px; font-family: 'Liberation Sans'; text-anchor: start" x="1648.222285" y="272.635725" transform="rotate(-0 1648.222285 272.635725)" textLength="43.180" lengthAdjust="spacingAndGlyphs">SHA-256</text>
    </g>
    <g id="line2d_115">
     <path d="M 1620.222285 284.08385 
L 1630.222285 284.08385 
L 1640.222285 284.08385 
" style="fill: none; stroke: #d62728; stroke-width: 2; stroke-linecap: square"/>
     <g>
      <use href="#m11aa431ba9" x="1630.222285" y="284.08385" style="fill: #d62728; stroke: #d62728; stroke-linejoin: miter"/>
     </g>
    </g>
    <g id="text_40">
     <text style="font-size: 10.400px; font-family: 'Liberation Sans'; text-anchor: start" x="1648.222285" y="287.58385" transform="rotate(-0 1648.222285 287.58385)" textLength="42.281" lengthAdjust="spacingAndGlyphs">CPHDSD</text>
    </g>
    <g id="line2d_116">
     <path d="M 1620.222285 299.031975 
L 1630.222285 299.031975 
L 1640.222285 299.031975 
" style="fill: none; stroke: #9467bd; stroke-width: 2; stroke-linecap: square"/>
     <g>
      <use href="#mce78e5a5ae" x="1630.222285" y="299.031975" style="fill: #9467bd; stroke: #9467bd; stroke-linejoin: miter"/>
     </g>
    </g>
    <g id="text_41">
     <text style="font-size: 10.400px; font-family: 'Liberation Sans'; text-anchor: start" x="1648.222285" y="302.531975" transform="rotate(-0 1648.222285 302.531975)" textLength="52.673" lengthAdjust="spacingAndGlyphs">SHAKE256</text>
    </g>
   </g>
  </g>
  <g id="axes_3">
   <g id="patch_14">
    <path d="M 78.837408 1091.245026 
L 599.061967 1091.245026 
L 599.061967 585.702103 
L 78.837408 585.702103 
z
" style="fill: #ffffff"/>
   </g>
   <g id="heatmap"><rect x="78.837" y="585.702" width="65.828" height="73.021" fill="#006837"/><rect x="143.865" y="585.702" width="65.828" height="73.021" fill="#feffbe"/><rect x="208.894" y="585.702" width="65.828" height="73.021" fill="#fdbf6f"/><rect x="273.922" y="585.702" width="65.828" height="73.021" fill="#f98e52"/><rect x="338.950" y="585.702" width="65.828" height="73.021" fill="#f46d43"/><rect x="403.978" y="585.702" width="65.828" height="73.021" fill="#e34933"/><rect x="469.006" y="585.702" width="65.828" height="73.021" fill="#de402e"/><rect x="534.034" y="585.702" width="65.028" height="73.021" fill="#c41e27"/><rect x="78.837" y="657.923" width="520.225" height="73.020" fill="#0c7f43"/><rect x="78.837" y="730.143" width="520.225" height="73.020" fill="#3faa59"/><rect x="78.837" y="802.363" width="65.828" height="73.021" fill="#006837"/><rect x="143.865" y="802.363" width="65.828" height="73.021" fill="#a0d669"/><rect x="208.894" y="802.363" width="65.828" height="73.021" fill="#e2f397"/><rect x="273.922" y="802.363" width="65.828" height="73.021" fill="#feffbe"/><rect x="338.950" y="802.363" width="65.828" height="73.021" fill="#feefa3"/><rect x="403.978" y="802.363" width="65.828" height="73.021" fill="#fed481"/><rect x="469.006" y="802.363" width="65.828" height="73.021" fill="#fec877"/><rect x="534.034" y="802.363" width="65.028" height="73.021" fill="#f98e52"/><rect x="78.837" y="874.584" width="520.225" height="73.020" fill="#07753e"/><rect x="78.837" y="946.804" width="520.225" height="73.021" fill="#98d368"/><rect x="78.837" y="1019.025" width="520.225" height="72.220" fill="#afdd70"/></g>
   <g id="matplotlib.axis_5">
    <g id="xtick_13">
     <g id="line2d_117">
      <g>
       <use href="#mcb6896031c" x="111.351443" y="1091.245026" style="stroke: #000000; stroke-width: 1.1"/>
      </g>
     </g>
     <g id="text_42">
      <text style="font-size: 10.400px; font-family: 'Liberation Sans'; text-anchor: middle" x="111.351443" y="1106.543463" transform="rotate(-0 111.351443 1106.543463)" textLength="6.363" lengthAdjust="spacingAndGlyphs">1</text>
     </g>
    </g>
    <g id="xtick_14">
     <g id="line2d_118">
      <g>
       <use href="#mcb6896031c" x="176.379513" y="1091.245026" style="stroke: #000000; stroke-width: 1.1"/>
      </g>
     </g>
     <g id="text_43">
      <text style="font-size: 10.400px; font-family: 'Liberation Sans'; text-anchor: middle" x="176.379513" y="1106.543463" transform="rotate(-0 176.379513 1106.543463)" textLength="6.363" lengthAdjust="spacingAndGlyphs">2</text>
     </g>
    </g>
    <g id="xtick_15">
     <g id="line2d_119">
      <g>
       <use href="#mcb6896031c" x="241.407582" y="1091.245026" style="stroke: #000000; stroke-width: 1.1"/>
      </g>
     </g>
     <g id="text_44">
      <text style="font-size: 10.400px; font-family: 'Liberation Sans'; text-anchor: middle" x="241.407582" y="1106.543463" transform="rotate(-0 241.407582 1106.543463)" textLength="6.363" lengthAdjust="spacingAndGlyphs">3</text>
     </g>
    </g>
    <g id="xtick_16">
     <g id="line2d_120">
      <g>
       <use href="#mcb6896031c" x="306.435652" y="1091.245026" style="stroke: #000000; stroke-width: 1.1"/>
      </g>
     </g>
     <g id="text_45">
      <text style="font-size: 10.400px; font-family: 'Liberation Sans'; text-anchor: middle" x="306.435652" y="1106.543463" transform="rotate(-0 306.435652 1106.543463)" textLength="6.363" lengthAdjust="spacingAndGlyphs">4</text>
     </g>
    </g>
    <g id="xtick_17">
     <g id="line2d_121">
      <g>
       <use href="#mcb6896031c" x="371.463722" y="1091.245026" style="stroke: #000000; stroke-width: 1.1"/>
      </g>
     </g>
     <g id="text_46">
      <text style="font-size: 10.400px; font-family: 'Liberation Sans'; text-anchor: middle" x="371.463722" y="1106.543463" transform="rotate(-0 371.463722 1106.543463)" textLength="6.363" lengthAdjust="spacingAndGlyphs">5</text>
     </g>
    </g>
    <g id="xtick_18">
     <g id="line2d_122">
      <g>
       <use href="#mcb6896031c" x="436.491792" y="1091.245026" style="stroke: #000000; stroke-width: 1.1"/>
      </g>
     </g>
     <g id="text_47">
      <text style="font-size: 10.400px; font-family: 'Liberation Sans'; text-anchor: middle" x="436.491792" y="1106.543463" transform="rotate(-0 436.491792 1106.543463)" textLength="6.363" lengthAdjust="spacingAndGlyphs">7</text>
     </g>
    </g>
    <g id="xtick_19">
     <g id="line2d_123">
      <g>
       <use href="#mcb6896031c" x="501.519862" y="1091.245026" style="stroke: #000000; stroke-width: 1.1"/>
      </g>
     </g>
     <g id="text_48">
      <text style="font-size: 10.400px; font-family: 'Liberation Sans'; text-anchor: middle" x="501.519862" y="1106.543463" transform="rotate(-0 501.519862 1106.543463)" textLength="6.363" lengthAdjust="spacingAndGlyphs">8</text>
     </g>
    </g>
    <g id="xtick_20">
     <g id="line2d_124">
      <g>
       <use href="#mcb6896031c" x="566.547932" y="1091.245026" style="stroke: #000000; stroke-width: 1.1"/>
      </g>
     </g>
     <g id="text_49">
      <text style="font-size: 10.400px; font-family: 'Liberation Sans'; text-anchor: middle" x="566.547932" y="1106.543463" transform="rotate(-0 566.547932 1106.543463)" textLength="12.725" lengthAdjust="spacingAndGlyphs">16</text>
     </g>
    </g>
    <g id="text_50">
     <text style="font-size: 12.480px; font-family: 'Liberation Sans'; text-anchor: middle" x="338.949687" y="1123.591276" transform="rotate(-0 338.949687 1123.591276)" textLength="81.403" lengthAdjust="spacingAndGlyphs">Thread Count</text>
    </g>
   </g>
   <g id="matplotlib.axis_6">
    <g id="ytick_35">
     <g id="line2d_125">
      <g>
       <use href="#mef8e797f4b" x="78.837408" y="621.812312" style="stroke: #000000; stroke-width: 1.1"/>
      </g>
     </g>
     <g id="text_51">
      <text style="font-size: 10.400px; font-family: 'Liberation Sans'; text-anchor: end" x="71.837408" y="625.611531" transform="translate(-1.42 0) rotate(-0 71.837408 625.611531)" textLength="49.767" lengthAdjust="spacingAndGlyphs">SHA3-512</text>
     </g>
    </g>
    <g id="ytick_36">
     <g id="line2d_126">
      <g>
       <use href="#mef8e797f4b" x="78.837408" y="694.03273" style="stroke: #000000; stroke-width: 1.1"/>
      </g>
     </g>
     <g id="text_52">
      <text style="font-size: 10.400px; font-family: 'Liberation Sans'; text-anchor: end" x="71.837408" y="697.831948" transform="translate(-1.42 0) rotate(-0 71.837408 697.831948)" textLength="38.738" lengthAdjust="spacingAndGlyphs">BLAKE3</text>
     </g>
    </g>
    <g id="ytick_37">
     <g id="line2d_127">
      <g>
       <use href="#mef8e797f4b" x="78.837408" y="766.253147" style="stroke: #000000; stroke-width: 1.1"/>
      </g>
     </g>
     <g id="text_53">
      <text style="font-size: 10.400px; font-family: 'Liberation Sans'; text-anchor: end" x="71.837408" y="770.052366" transform="translate(-1.42 0) rotate(-0 71.837408 770.052366)" textLength="27.583" lengthAdjust="spacingAndGlyphs">XXH3</text>
     </g>
    </g>
    <g id="ytick_38">
     <g id="line2d_128">
      <g>
       <use href="#mef8e797f4b" x="78.837408" y="838.473565" style="stroke: #000000; stroke-width: 1.1"/>
      </g>
     </g>
     <g id="text_54">
      <text style="font-size: 10.400px; font-family: 'Liberation Sans'; text-anchor: end" x="71.837408" y="842.272783" transform="translate(-1.42 0) rotate(-0 71.837408 842.272783)" textLength="43.180" lengthAdjust="spacingAndGlyphs">SHA-256</text>
     </g>
    </g>
    <g id="ytick_39">
     <g id="line2d_129">
      <g>
       <use href="#mef8e797f4b" x="78.837408" y="910.693982" style="stroke: #000000; stroke-width: 1.1"/>
      </g>
     </g>
     <g id="text_55">
      <text style="font-size: 10.400px; font-family: 'Liberation Sans'; text-anchor: end" x="71.837408" y="914.493201" transform="translate(-1.42 0) rotate(-0 71.837408 914.493201)" textLength="42.281" lengthAdjust="spacingAndGlyphs">CPHDSD</text>
     </g>
    </g>
    <g id="ytick_40">
     <g id="line2d_130">
      <g>
       <use href="#mef8e797f4b" x="78.837408" y="982.914399" style="stroke: #000000; stroke-width: 1.1"/>
      </g>
     </g>
     <g id="text_56">
      <text style="font-size: 10.400px; font-family: 'Liberation Sans'; text-anchor: end" x="71.837408" y="986.713618" transform="translate(-1.42 0) rotate(-0 71.837408 986.713618)" textLength="36.700" lengthAdjust="spacingAndGlyphs">Ref[27]</text>
     </g>
    </g>
    <g id="ytick_41">
     <g id="line2d_131">
      <g>
       <use href="#mef8e797f4b" x="78.837408" y="1055.134817" style="stroke: #000000; stroke-width: 1.1"/>
      </g>
     </g>
     <g id="text_57">
      <text style="font-size: 10.400px; font-family: 'Liberation Sans'; text-anchor: end" x="71.837408" y="1058.934036" transform="translate(-1.42 0) rotate(-0 71.837408 1058.934036)" textLength="52.673" lengthAdjust="spacingAndGlyphs">SHAKE256</text>
     </g>
    </g>
    <g id="text_58">
     <text style="font-size: 12.480px; font-family: 'Liberation Sans'; text-anchor: middle" x="10.568345" y="840.747584" transform="rotate(-90 10.568345 840.747584)" textLength="58.768" lengthAdjust="spacingAndGlyphs">Algorithm</text>
    </g>
   </g>
   <g id="patch_15">
    <path d="M 78.837408 1091.245026 
L 78.837408 585.702103 
" style="fill: none; stroke: #000000; stroke-width: 1.1; stroke-linejoin: miter; stroke-linecap: square"/>
   </g>
   <g id="patch_16">
    <path d="M 599.061967 1091.245026 
L 599.061967 585.702103 
" style="fill: none; stroke: #000000; stroke-width: 1.1; stroke-linejoin: miter; stroke-linecap: square"/>
   </g>
   <g id="patch_17">
    <path d="M 78.837408 1091.245026 
L 599.061967 1091.245026 
" style="fill: none; stroke: #000000; stroke-width: 1.1; stroke-linejoin: miter; stroke-linecap: square"/>
   </g>
   <g id="patch_18">
    <path d="M 78.837408 585.702103 
L 599.061967 585.702103 
" style="fill: none; stroke: #000000; stroke-width: 1.1; stroke-linejoin: miter; stroke-linecap: square"/>
   </g>
   <g id="text_59">
    <text style="font-size: 14.560px; font-family: 'Liberation Sans'; text-anchor: middle" x="338.949687" y="580.902103" transform="rotate(-0 338.949687 580.902103)" textLength="208.484" lengthAdjust="spacingAndGlyphs">C. Thread Efficiency Heatmap</text>
   </g>
  </g>
  <g id="axes_4">
   <g id="patch_19">
    <path d="M 631.18249 1091.245026 
L 657.04946 1091.245026 
L 657.04946 585.744741 
L 631.18249 585.744741 
z
" style="fill: #ffffff"/>
   </g>
   <defs><linearGradient id="cbgrad" x1="0" y1="1" x2="0" y2="0"><stop offset="0.000" stop-color="#a50026"/><stop offset="0.050" stop-color="#bd1726"/><stop offset="0.100" stop-color="#d62f27"/><stop offset="0.150" stop-color="#e54e35"/><stop offset="0.200" stop-color="#f46d43"/><stop offset="0.250" stop-color="#f98e52"/><stop offset="0.300" stop-color="#fdad60"/><stop offset="0.350" stop-color="#fdc776"/><stop offset="0.400" stop-color="#fee08b"/><stop offset="0.450" stop-color="#fff0a6"/><stop offset="0.500" stop-color="#feffbe"/><stop offset="0.550" stop-color="#ecf7a6"/><stop offset="0.600" stop-color="#d9ef8b"/><stop offset="0.650" stop-color="#bfe47a"/><stop offset="0.700" stop-color="#a5d86a"/><stop offset="0.750" stop-color="#84ca66"/><stop offset="0.800" stop-color="#66bd63"/><stop offset="0.850" stop-color="#3faa59"/><stop offset="0.900" stop-color="#199750"/><stop offset="0.950" stop-color="#0c7f43"/><stop offset="1.000" stop-color="#006837"/></linearGradient></defs><g id="cbsolids"><rect x="631.182" y="585.745" width="25.867" height="505.500" fill="url(#cbgrad)"/></g>
   <g id="matplotlib.axis_7"/>
   <g id="matplotlib.axis_8">
    <g id="ytick_42">
     <g id="line2d_132">
      <defs>
       <path id="ma9b77ce308" d="M 0 0 
L 3.5 0 
" style="stroke: #000000; stroke-width: 1.1"/>
      </defs>
      <g>
       <use href="#ma9b77ce308" x="657.04946" y="1091.245026" style="stroke: #000000; stroke-width: 1.1"/>
      </g>
     </g>
     <g id="text_60">
      <text style="font-size: 10.400px; font-family: 'Liberation Sans'; text-anchor: start" x="664.04946" y="1095.044244" transform="rotate(-0 664.04946 1095.044244)" textLength="15.903" lengthAdjust="spacingAndGlyphs">0.0</text>
     </g>
    </g>
    <g id="ytick_43">
     <g id="line2d_133">
      <g>
       <use href="#ma9b77ce308" x="657.04946" y="990.144969" style="stroke: #000000; stroke-width: 1.1"/>
      </g>
     </g>
     <g id="text_61">
      <text style="font-size: 10.400px; font-family: 'Liberation Sans'; text-anchor: start" x="664.04946" y="993.944187" transform="rotate(-0 664.04946 993.944187)" textLength="15.903" lengthAdjust="spacingAndGlyphs">0.2</text>
     </g>
    </g>
    <g id="ytick_44">
     <g id="line2d_134">
      <g>
       <use href="#ma9b77ce308" x="657.04946" y="889.044912" style="stroke: #000000; stroke-width: 1.1"/>
      </g>
     </g>
     <g id="text_62">
      <text style="font-size: 10.400px; font-family: 'Liberation Sans'; text-anchor: start" x="664.04946" y="892.844131" transform="rotate(-0 664.04946 892.844131)" textLength="15.903" lengthAdjust="spacingAndGlyphs">0.4</text>
     </g>
    </g>
    <g id="ytick_45">
     <g id="line2d_135">
      <g>
       <use href="#ma9b77ce308" x="657.04946" y="787.944855" style="stroke: #000000; stroke-width: 1.1"/>
      </g>
     </g>
     <g id="text_63">
      <text style="font-size: 10.400px; font-family: 'Liberation Sans'; text-anchor: start" x="664.04946" y="791.744074" transform="rotate(-0 664.04946 791.744074)" textLength="15.903" lengthAdjust="spacingAndGlyphs">0.6</text>
     </g>
    </g>
    <g id="ytick_46">
     <g id="line2d_136">
      <g>
       <use href="#ma9b77ce308" x="657.04946" y="686.844798" style="stroke: #000000; stroke-width: 1.1"/>
      </g>
     </g>
     <g id="text_64">
      <text style="font-size: 10.400px; font-family: 'Liberation Sans'; text-anchor: start" x="664.04946" y="690.644017" transform="rotate(-0 664.04946 690.644017)" textLength="15.903" lengthAdjust="spacingAndGlyphs">0.8</text>
     </g>
    </g>
    <g id="ytick_47">
     <g id="line2d_137">
      <g>
       <use href="#ma9b77ce308" x="657.04946" y="585.744741" style="stroke: #000000; stroke-width: 1.1"/>
      </g>
     </g>
     <g id="text_65">
      <text style="font-size: 10.400px; font-family: 'Liberation Sans'; text-anchor: start" x="664.04946" y="589.54396" transform="rotate(-0 664.04946 589.54396)" textLength="15.903" lengthAdjust="spacingAndGlyphs">1.0</text>
     </g>
    </g>
    <g id="text_66">
     <text style="font-size: 10.400px; font-family: 'Liberation Sans'; text-anchor: middle" x="693.401022" y="838.494883" transform="rotate(-90 693.401022 838.494883)" textLength="48.322" lengthAdjust="spacingAndGlyphs">Efficiency</text>
    </g>
   </g>
   <g id="LineCollection_1"/>
   <g id="patch_20">
    <path d="M 631.18249 1091.245026 
L 644.115975 1091.245026 
L 657.04946 1091.245026 
L 657.04946 585.744741 
L 644.115975 585.744741 
L 631.18249 585.744741 
L 631.18249 1091.245026 
z
" style="fill: none; stroke: #000000; stroke-width: 1.1; stroke-linejoin: miter; stroke-linecap: square"/>
   </g>
  </g>
  <g id="patch_21">
   <path d="M 1019.542354 1091.245026 
L 1525.795907 1091.245026 
L 1525.795907 584.991472 
L 1019.542354 584.991472 
z
" style="fill: #ffffff"/>
  </g>
  <g id="pane3d_1">
   <g id="patch_22">
    <path d="M 1279.510394 843.48184 
L 1505.602097 939.946218 
L 1514.297445 718.4284 
L 1279.510394 634.50407 
" style="fill: #f2f2f2; opacity: 0.5; stroke: #f2f2f2; stroke-linejoin: miter"/>
   </g>
  </g>
  <g id="pane3d_2">
   <g id="patch_23">
    <path d="M 1279.510394 843.48184 
L 1053.418691 939.946218 
L 1044.723344 718.4284 
L 1279.510394 634.50407 
" style="fill: #e6e6e6; opacity: 0.5; stroke: #e6e6e6; stroke-linejoin: miter"/>
   </g>
  </g>
  <g id="pane3d_3">
   <g id="patch_24">
    <path d="M 1279.510394 843.48184 
L 1053.418691 939.946218 
L 1279.510394 1052.026342 
L 1505.602097 939.946218 
" style="fill: #ececec; opacity: 0.5; stroke: #ececec; stroke-linejoin: miter"/>
   </g>
  </g>
  <g id="grid3d_1">
   <g id="Line3DCollection_1">
    <path d="M 1479.885458 952.694692 
L 1253.665325 854.508908 
L 1252.734876 644.074944 
" style="fill: none; stroke: #b0b0b0; stroke-width: 0.8"/>
    <path d="M 1454.877206 965.091997 
L 1228.563936 865.218676 
L 1226.714145 653.376022 
" style="fill: none; stroke: #b0b0b0; stroke-width: 0.8"/>
    <path d="M 1429.421274 977.711231 
L 1203.045295 876.10647 
L 1200.24504 662.837369 
" style="fill: none; stroke: #b0b0b0; stroke-width: 0.8"/>
    <path d="M 1403.505533 990.558405 
L 1177.098913 887.176764 
L 1173.315871 672.463166 
" style="fill: none; stroke: #b0b0b0; stroke-width: 0.8"/>
    <path d="M 1377.11741 1003.639752 
L 1150.713942 898.434187 
L 1145.91454 682.257737 
" style="fill: none; stroke: #b0b0b0; stroke-width: 0.8"/>
    <path d="M 1350.243872 1016.961734 
L 1123.879167 909.883523 
L 1118.028518 692.22556 
" style="fill: none; stroke: #b0b0b0; stroke-width: 0.8"/>
    <path d="M 1322.871399 1030.531051 
L 1096.582988 921.529721 
L 1089.64483 702.371273 
" style="fill: none; stroke: #b0b0b0; stroke-width: 0.8"/>
    <path d="M 1294.985967 1044.354658 
L 1068.813401 933.377905 
L 1060.750033 712.699681 
" style="fill: none; stroke: #b0b0b0; stroke-width: 0.8"/>
   </g>
  </g>
  <g id="grid3d_2">
   <g id="Line3DCollection_2">
    <path d="M 1293.237943 639.410965 
L 1292.762884 849.136152 
L 1066.601207 946.481168 
" style="fill: none; stroke: #b0b0b0; stroke-width: 0.8"/>
    <path d="M 1332.142789 653.317452 
L 1330.298833 865.151256 
L 1103.986052 965.013905 
" style="fill: none; stroke: #b0b0b0; stroke-width: 0.8"/>
    <path d="M 1372.058639 667.585321 
L 1368.775613 881.567774 
L 1142.38034 984.047052 
" style="fill: none; stroke: #b0b0b0; stroke-width: 0.8"/>
    <path d="M 1413.025423 682.228845 
L 1408.229043 898.400991 
L 1181.825514 1003.601153 
" style="fill: none; stroke: #b0b0b0; stroke-width: 0.8"/>
    <path d="M 1455.085196 697.263058 
L 1448.696788 915.666975 
L 1222.365319 1023.697893 
" style="fill: none; stroke: #b0b0b0; stroke-width: 0.8"/>
    <path d="M 1498.282294 712.703805 
L 1490.218473 933.382634 
L 1264.045961 1044.36018 
" style="fill: none; stroke: #b0b0b0; stroke-width: 0.8"/>
   </g>
  </g>
  <g id="grid3d_3">
   <g id="Line3DCollection_3">
    <path d="M 1051.685405 895.789982 
L 1279.510394 801.735961 
L 1507.335384 895.789982 
" style="fill: none; stroke: #b0b0b0; stroke-width: 0.8"/>
    <path d="M 1050.02569 853.508003 
L 1279.510394 761.803777 
L 1508.995099 853.508003 
" style="fill: none; stroke: #b0b0b0; stroke-width: 0.8"/>
    <path d="M 1048.341615 810.605452 
L 1279.510394 721.327188 
L 1510.679174 810.605452 
" style="fill: none; stroke: #b0b0b0; stroke-width: 0.8"/>
    <path d="M 1046.63264 767.068564 
L 1279.510394 680.294985 
L 1512.388149 767.068564 
" style="fill: none; stroke: #b0b0b0; stroke-width: 0.8"/>
    <path d="M 1044.898209 722.883166 
L 1279.510394 638.695649 
L 1514.12258 722.883166 
" style="fill: none; stroke: #b0b0b0; stroke-width: 0.8"/>
   </g>
  </g>
  <g id="axis3d_1">
   <g id="line2d_138">
    <path d="M 1505.602097 939.946218 
L 1279.510394 1052.026342 
" style="fill: none; stroke: #000000; stroke-width: 1.1; stroke-linecap: square"/>
   </g>
   <g id="xtick_21">
    <g id="line2d_139">
     <path d="M 1477.940111 951.850358 
L 1483.783216 954.386427 
" style="fill: none; stroke: #000000; stroke-width: 1.1; stroke-linecap: square"/>
    </g>
    <g id="text_67">
     <text style="font-size: 10.400px; font-family: 'Liberation Sans'; text-anchor: middle" x="1490.816286" y="975.144378" transform="rotate(-0 1490.816286 975.144378)" textLength="6.363" lengthAdjust="spacingAndGlyphs">2</text>
    </g>
   </g>
   <g id="xtick_22">
    <g id="line2d_140">
     <path d="M 1452.929855 964.232621 
L 1458.779042 966.8139 
" style="fill: none; stroke: #000000; stroke-width: 1.1; stroke-linecap: square"/>
    </g>
    <g id="text_68">
     <text style="font-size: 10.400px; font-family: 'Liberation Sans'; text-anchor: middle" x="1465.860513" y="987.695809" transform="rotate(-0 1465.860513 987.695809)" textLength="6.363" lengthAdjust="spacingAndGlyphs">4</text>
    </g>
   </g>
   <g id="xtick_23">
    <g id="line2d_141">
     <path d="M 1427.47216 976.836406 
L 1433.326709 979.464114 
" style="fill: none; stroke: #000000; stroke-width: 1.1; stroke-linecap: square"/>
    </g>
    <g id="text_69">
     <text style="font-size: 10.400px; font-family: 'Liberation Sans'; text-anchor: middle" x="1440.457193" y="1000.472333" transform="rotate(-0 1440.457193 1000.472333)" textLength="6.363" lengthAdjust="spacingAndGlyphs">6</text>
    </g>
   </g>
   <g id="xtick_24">
    <g id="line2d_142">
     <path d="M 1401.554908 989.667712 
L 1407.414059 992.343114 
" style="fill: none; stroke: #000000; stroke-width: 1.1; stroke-linecap: square"/>
    </g>
    <g id="text_70">
     <text style="font-size: 10.400px; font-family: 'Liberation Sans'; text-anchor: middle" x="1414.59418" y="1013.480058" transform="rotate(-0 1414.59418 1013.480058)" textLength="6.363" lengthAdjust="spacingAndGlyphs">8</text>
    </g>
   </g>
   <g id="xtick_25">
    <g id="line2d_143">
     <path d="M 1375.165543 1002.732755 
L 1381.028492 1005.457161 
" style="fill: none; stroke: #000000; stroke-width: 1.1; stroke-linecap: square"/>
    </g>
    <g id="text_71">
     <text style="font-size: 10.400px; font-family: 'Liberation Sans'; text-anchor: middle" x="1388.258882" y="1026.725318" transform="rotate(-0 1388.258882 1026.725318)" textLength="12.725" lengthAdjust="spacingAndGlyphs">10</text>
    </g>
   </g>
   <g id="xtick_26">
    <g id="line2d_144">
     <path d="M 1348.291046 1016.037981 
L 1354.156941 1018.812749 
" style="fill: none; stroke: #000000; stroke-width: 1.1; stroke-linecap: square"/>
    </g>
    <g id="text_72">
     <text style="font-size: 10.400px; font-family: 'Liberation Sans'; text-anchor: middle" x="1361.438242" y="1040.214678" transform="rotate(-0 1361.438242 1040.214678)" textLength="12.725" lengthAdjust="spacingAndGlyphs">12</text>
    </g>
   </g>
   <g id="xtick_27">
    <g id="line2d_145">
     <path d="M 1320.917916 1029.590074 
L 1326.785856 1032.416614 
" style="fill: none; stroke: #000000; stroke-width: 1.1; stroke-linecap: square"/>
    </g>
    <g id="text_73">
     <text style="font-size: 10.400px; font-family: 'Liberation Sans'; text-anchor: middle" x="1334.118719" y="1053.954951" transform="rotate(-0 1334.118719 1053.954951)" textLength="12.725" lengthAdjust="spacingAndGlyphs">14</text>
    </g>
   </g>
   <g id="xtick_28">
    <g id="line2d_146">
     <path d="M 1293.032144 1043.395969 
L 1298.901176 1046.275744 
" style="fill: none; stroke: #000000; stroke-width: 1.1; stroke-linecap: square"/>
    </g>
    <g id="text_74">
     <text style="font-size: 10.400px; font-family: 'Liberation Sans'; text-anchor: middle" x="1306.286264" y="1067.953201" transform="rotate(-0 1306.286264 1067.953201)" textLength="12.725" lengthAdjust="spacingAndGlyphs">16</text>
    </g>
   </g>
   <g id="text_75">
    <text style="font-size: 10.400px; font-family: 'Liberation Sans'; text-anchor: middle" x="1422.665611" y="1030.166088" transform="rotate(-26.36893 1422.665611 1030.166088)" textLength="67.836" lengthAdjust="spacingAndGlyphs">Thread Count</text>
   </g>
  </g>
  <g id="axis3d_2">
   <g id="line2d_147">
    <path d="M 1053.418691 939.946218 
L 1279.510394 1052.026342 
" style="fill: none; stroke: #000000; stroke-width: 1.1; stroke-linecap: square"/>
   </g>
   <g id="xtick_29">
    <g id="line2d_148">
     <path d="M 1068.545449 945.644323 
L 1062.705694 948.157884 
" style="fill: none; stroke: #000000; stroke-width: 1.1; stroke-linecap: square"/>
    </g>
    <g id="text_76">
     <text style="font-size: 10.400px; font-family: 'Liberation Sans'; text-anchor: middle" x="1055.696975" y="968.853754" transform="rotate(-0 1055.696975 968.853754)" textLength="6.363" lengthAdjust="spacingAndGlyphs">0</text>
    </g>
   </g>
   <g id="xtick_30">
    <g id="line2d_149">
     <path d="M 1105.933391 964.154623 
L 1100.08424 966.735616 
" style="fill: none; stroke: #000000; stroke-width: 1.1; stroke-linecap: square"/>
    </g>
    <g id="text_77">
     <text style="font-size: 10.400px; font-family: 'Liberation Sans'; text-anchor: middle" x="1093.003074" y="987.616745" transform="rotate(-0 1093.003074 987.616745)" textLength="19.088" lengthAdjust="spacingAndGlyphs">200</text>
    </g>
   </g>
   <g id="xtick_31">
    <g id="line2d_150">
     <path d="M 1144.330235 983.164419 
L 1138.473309 985.815594 
" style="fill: none; stroke: #000000; stroke-width: 1.1; stroke-linecap: square"/>
    </g>
    <g id="text_78">
     <text style="font-size: 10.400px; font-family: 'Liberation Sans'; text-anchor: middle" x="1131.318312" y="1006.887279" transform="rotate(-0 1131.318312 1006.887279)" textLength="19.088" lengthAdjust="spacingAndGlyphs">400</text>
    </g>
   </g>
   <g id="xtick_32">
    <g id="line2d_151">
     <path d="M 1183.777378 1002.694204 
L 1177.914439 1005.418464 
" style="fill: none; stroke: #000000; stroke-width: 1.1; stroke-linecap: square"/>
    </g>
    <g id="text_79">
     <text style="font-size: 10.400px; font-family: 'Liberation Sans'; text-anchor: middle" x="1170.684197" y="1026.686234" transform="rotate(-0 1170.684197 1026.686234)" textLength="19.088" lengthAdjust="spacingAndGlyphs">600</text>
    </g>
   </g>
   <g id="xtick_33">
    <g id="line2d_152">
     <path d="M 1224.318511 1022.76561 
L 1218.45148 1025.566019 
" style="fill: none; stroke: #000000; stroke-width: 1.1; stroke-linecap: square"/>
    </g>
    <g id="text_80">
     <text style="font-size: 10.400px; font-family: 'Liberation Sans'; text-anchor: middle" x="1211.144546" y="1047.035645" transform="rotate(-0 1211.144546 1047.035645)" textLength="19.088" lengthAdjust="spacingAndGlyphs">800</text>
    </g>
   </g>
   <g id="xtick_34">
    <g id="line2d_153">
     <path d="M 1265.999785 1043.401485 
L 1260.130753 1046.281281 
" style="fill: none; stroke: #000000; stroke-width: 1.1; stroke-linecap: square"/>
    </g>
    <g id="text_81">
     <text style="font-size: 10.400px; font-family: 'Liberation Sans'; text-anchor: middle" x="1252.745643" y="1067.958793" transform="rotate(-0 1252.745643 1067.958793)" textLength="25.450" lengthAdjust="spacingAndGlyphs">1000</text>
    </g>
   </g>
   <g id="text_82">
    <text style="font-size: 10.400px; font-family: 'Liberation Sans'; text-anchor: middle" x="1136.355178" y="1030.166088" transform="rotate(-333.63107 1136.355178 1030.166088)" textLength="74.053" lengthAdjust="spacingAndGlyphs">Data Size (MB)</text>
   </g>
  </g>
  <g id="axis3d_3">
   <g id="line2d_154">
    <path d="M 1053.418691 939.946218 
L 1044.723344 718.4284 
" style="fill: none; stroke: #000000; stroke-width: 1.1; stroke-linecap: square"/>
   </g>
   <g id="xtick_35">
    <g id="line2d_155">
     <path d="M 1053.644344 894.981264 
L 1047.760423 897.41035 
" style="fill: none; stroke: #000000; stroke-width: 1.1; stroke-linecap: square"/>
    </g>
    <g id="text_83">
     <text style="font-size: 10.400px; font-family: 'Liberation Sans'; text-anchor: middle" x="1030.602797" y="903.388419" transform="rotate(-0 1030.602797 903.388419)" textLength="38.175" lengthAdjust="spacingAndGlyphs">100000</text>
    </g>
   </g>
   <g id="xtick_36">
    <g id="line2d_156">
     <path d="M 1051.9999 852.71909 
L 1046.070058 855.08871 
" style="fill: none; stroke: #000000; stroke-width: 1.1; stroke-linecap: square"/>
    </g>
    <g id="text_84">
     <text style="font-size: 10.400px; font-family: 'Liberation Sans'; text-anchor: middle" x="1028.789494" y="861.106441" transform="rotate(-0 1028.789494 861.106441)" textLength="38.175" lengthAdjust="spacingAndGlyphs">200000</text>
    </g>
   </g>
   <g id="xtick_37">
    <g id="line2d_157">
     <path d="M 1050.331335 809.837014 
L 1044.354854 812.145154 
" style="fill: none; stroke: #000000; stroke-width: 1.1; stroke-linecap: square"/>
    </g>
    <g id="text_85">
     <text style="font-size: 10.400px; font-family: 'Liberation Sans'; text-anchor: middle" x="1026.949578" y="818.203889" transform="rotate(-0 1026.949578 818.203889)" textLength="38.175" lengthAdjust="spacingAndGlyphs">300000</text>
    </g>
   </g>
   <g id="xtick_38">
    <g id="line2d_158">
     <path d="M 1048.638114 766.321295 
L 1042.614258 768.56587 
" style="fill: none; stroke: #000000; stroke-width: 1.1; stroke-linecap: square"/>
    </g>
    <g id="text_86">
     <text style="font-size: 10.400px; font-family: 'Liberation Sans'; text-anchor: middle" x="1025.082457" y="774.667001" transform="rotate(-0 1025.082457 774.667001)" textLength="38.175" lengthAdjust="spacingAndGlyphs">400000</text>
    </g>
   </g>
   <g id="xtick_39">
    <g id="line2d_159">
     <path d="M 1046.919688 722.157785 
L 1040.847703 724.336637 
" style="fill: none; stroke: #000000; stroke-width: 1.1; stroke-linecap: square"/>
    </g>
    <g id="text_87">
     <text style="font-size: 10.400px; font-family: 'Liberation Sans'; text-anchor: middle" x="1023.187524" y="730.481604" transform="rotate(-0 1023.187524 730.481604)" textLength="38.175" lengthAdjust="spacingAndGlyphs">500000</text>
    </g>
   </g>
   <g id="text_88">
    <text style="font-size: 10.400px; font-family: 'Liberation Sans'; text-anchor: middle" x="999.481033" y="831.385217" transform="rotate(-272.247905 999.481033 831.385217)" textLength="93.128" lengthAdjust="spacingAndGlyphs">Throughput (MB/s)</text>
   </g>
  </g>
  <g id="axes_5">
   <g id="Poly3DCollection_1">
    <path d="M 1279.500617 852.324008 
L 1267.096746 857.520869 
L 1268.766325 857.794869 
L 1281.171099 852.724826 
z
" clip-path="url(#p88c99aa9cc)" style="fill: #855247; fill-opacity: 0.6"/>
    <path d="M 1281.171099 852.724826 
L 1268.766325 857.794869 
L 1285.574787 864.620289 
L 1297.979163 859.625042 
z
" clip-path="url(#p88c99aa9cc)" style="fill: #7c4c43; fill-opacity: 0.6"/>
    <path d="M 1267.096746 857.520869 
L 1241.979533 868.122031 
L 1243.645835 868.217681 
L 1268.766325 857.794869 
z
" clip-path="url(#p88c99aa9cc)" style="fill: #895449; fill-opacity: 0.6"/>
    <path d="M 1268.766325 857.794869 
L 1243.645835 868.217681 
L 1260.451418 874.971733 
L 1285.574787 864.620289 
z
" clip-path="url(#p88c99aa9cc)" style="fill: #7d4d43; fill-opacity: 0.6"/>
    <path d="M 1241.979533 868.122031 
L 1190.472283 889.973433 
L 1192.127629 889.817083 
L 1243.645835 868.217681 
z
" clip-path="url(#p88c99aa9cc)" style="fill: #885449; fill-opacity: 0.6"/>
    <path d="M 1243.645835 868.217681 
L 1192.127629 889.817083 
L 1208.915518 896.54273 
L 1260.451418 874.971733 
z
" clip-path="url(#p88c99aa9cc)" style="fill: #7e4d44; fill-opacity: 0.6"/>
    <path d="M 1297.979163 859.625042 
L 1285.574787 864.620289 
L 1464.624603 941.633163 
L 1476.962712 936.13968 
z
" clip-path="url(#p88c99aa9cc)" style="fill: #7c4c42; fill-opacity: 0.6"/>
    <path d="M 1285.574787 864.620289 
L 1260.451418 874.971733 
L 1439.605033 953.095117 
L 1464.624603 941.633163 
z
" clip-path="url(#p88c99aa9cc)" style="fill: #7c4c42; fill-opacity: 0.6"/>
    <path d="M 1190.472283 889.973433 
L 1082.059439 936.13015 
L 1083.677797 935.613167 
L 1192.127629 889.817083 
z
" clip-path="url(#p88c99aa9cc)" style="fill: #845147; fill-opacity: 0.6"/>
    <path d="M 1192.127629 889.817083 
L 1083.677797 935.613167 
L 1100.384116 942.463262 
L 1208.915518 896.54273 
z
" clip-path="url(#p88c99aa9cc)" style="fill: #804f45; fill-opacity: 0.6"/>
    <path d="M 1260.451418 874.971733 
L 1208.915518 896.54273 
L 1388.185325 977.115118 
L 1439.605033 953.095117 
z
" clip-path="url(#p88c99aa9cc)" style="fill: #7c4c42; fill-opacity: 0.6"/>
    <path d="M 1208.915518 896.54273 
L 1100.384116 942.463262 
L 1279.521551 1028.556061 
L 1388.185325 977.115118 
z
" clip-path="url(#p88c99aa9cc)" style="fill: #7c4c42; fill-opacity: 0.6"/>
   </g>
   <g id="text_89">
    <text style="font-size: 14.560px; font-family: 'Liberation Sans'; text-anchor: middle" x="1272.66913" y="580.191472" transform="rotate(-0 1272.66913 580.191472)" textLength="206.196" lengthAdjust="spacingAndGlyphs">D. 3D Performance Projection</text>
   </g>
   <g id="Poly3DCollection_2">
    <path d="M 1279.500616 852.077014 
L 1267.095297 856.839153 
L 1268.763816 856.430479 
L 1281.171239 852.23055 
z
" clip-path="url(#p88c99aa9cc)" style="fill: #ed760d; fill-opacity: 0.6"/>
    <path d="M 1281.171239 852.23055 
L 1268.763816 856.430479 
L 1285.576924 862.564273 
L 1297.981518 858.880309 
z
" clip-path="url(#p88c99aa9cc)" style="fill: #e2710c; fill-opacity: 0.6"/>
    <path d="M 1267.095297 856.839153 
L 1241.968995 866.484608 
L 1243.625675 864.939773 
L 1268.763816 856.430479 
z
" clip-path="url(#p88c99aa9cc)" style="fill: #f47a0d; fill-opacity: 0.6"/>
    <path d="M 1268.763816 856.430479 
L 1243.625675 864.939773 
L 1260.435252 870.030942 
L 1285.576924 862.564273 
z
" clip-path="url(#p88c99aa9cc)" style="fill: #e3710c; fill-opacity: 0.6"/>
    <path d="M 1241.968995 866.484608 
L 1190.4156 886.274864 
L 1192.016219 882.409643 
L 1243.625675 864.939773 
z
" clip-path="url(#p88c99aa9cc)" style="fill: #fa7c0e; fill-opacity: 0.6"/>
    <path d="M 1243.625675 864.939773 
L 1192.016219 882.409643 
L 1208.779625 885.371826 
L 1260.435252 870.030942 
z
" clip-path="url(#p88c99aa9cc)" style="fill: #e4710d; fill-opacity: 0.6"/>
    <path d="M 1297.981518 858.880309 
L 1285.576924 862.564273 
L 1464.716738 938.767256 
L 1476.998266 935.101865 
z
" clip-path="url(#p88c99aa9cc)" style="fill: #e1700c; fill-opacity: 0.6"/>
    <path d="M 1285.576924 862.564273 
L 1260.435252 870.030942 
L 1439.796998 946.204488 
L 1464.716738 938.767256 
z
" clip-path="url(#p88c99aa9cc)" style="fill: #e1700c; fill-opacity: 0.6"/>
    <path d="M 1190.4156 886.274864 
L 1081.780151 927.977712 
L 1083.122558 919.270293 
L 1192.016219 882.409643 
z
" clip-path="url(#p88c99aa9cc)" style="fill: #f77b0e; fill-opacity: 0.6"/>
    <path d="M 1192.016219 882.409643 
L 1083.122558 919.270293 
L 1099.616502 917.791505 
L 1208.779625 885.371826 
z
" clip-path="url(#p88c99aa9cc)" style="fill: #e6730d; fill-opacity: 0.6"/>
    <path d="M 1260.435252 870.030942 
L 1208.779625 885.371826 
L 1388.481493 961.51947 
L 1439.796998 946.204488 
z
" clip-path="url(#p88c99aa9cc)" style="fill: #e1700c; fill-opacity: 0.6"/>
    <path d="M 1208.779625 885.371826 
L 1099.616502 917.791505 
L 1279.521618 994.038266 
L 1388.481493 961.51947 
z
" clip-path="url(#p88c99aa9cc)" style="fill: #e2700c; fill-opacity: 0.6"/>
   </g>
   <g id="Poly3DCollection_3">
    <path d="M 1279.500616 851.699912 
L 1267.093689 856.082346 
L 1268.761029 854.915428 
L 1281.171454 851.475828 
z
" clip-path="url(#p88c99aa9cc)" style="fill: #15b0c0; fill-opacity: 0.6"/>
    <path d="M 1281.171454 851.475828 
L 1268.761029 854.915428 
L 1285.579297 860.280651 
L 1297.985114 857.743038 
z
" clip-path="url(#p88c99aa9cc)" style="fill: #14a8b7; fill-opacity: 0.6"/>
    <path d="M 1267.093689 856.082346 
L 1241.959186 864.960475 
L 1243.6069 861.886999 
L 1268.761029 854.915428 
z
" clip-path="url(#p88c99aa9cc)" style="fill: #16b6c6; fill-opacity: 0.6"/>
    <path d="M 1268.761029 854.915428 
L 1243.6069 861.886999 
L 1260.420187 865.426953 
L 1285.579297 860.280651 
z
" clip-path="url(#p88c99aa9cc)" style="fill: #14a9b8; fill-opacity: 0.6"/>
    <path d="M 1241.959186 864.960475 
L 1190.368225 883.183679 
L 1191.922996 876.211408 
L 1243.6069 861.886999 
z
" clip-path="url(#p88c99aa9cc)" style="fill: #17bacb; fill-opacity: 0.6"/>
    <path d="M 1243.6069 861.886999 
L 1191.922996 876.211408 
L 1208.665781 876.01333 
L 1260.420187 865.426953 
z
" clip-path="url(#p88c99aa9cc)" style="fill: #15aab9; fill-opacity: 0.6"/>
    <path d="M 1297.985114 857.743038 
L 1285.579297 860.280651 
L 1464.819103 935.58311 
L 1477.052568 933.51682 
z
" clip-path="url(#p88c99aa9cc)" style="fill: #14a8b7; fill-opacity: 0.6"/>
    <path d="M 1285.579297 860.280651 
L 1260.420187 865.426953 
L 1439.975998 939.779228 
L 1464.819103 935.58311 
z
" clip-path="url(#p88c99aa9cc)" style="fill: #14a8b7; fill-opacity: 0.6"/>
    <path d="M 1190.368225 883.183679 
L 1081.562232 921.61665 
L 1082.688228 906.486276 
L 1191.922996 876.211408 
z
" clip-path="url(#p88c99aa9cc)" style="fill: #16b8c8; fill-opacity: 0.6"/>
    <path d="M 1191.922996 876.211408 
L 1082.688228 906.486276 
L 1099.014496 898.442528 
L 1208.665781 876.01333 
z
" clip-path="url(#p88c99aa9cc)" style="fill: #15acbb; fill-opacity: 0.6"/>
    <path d="M 1260.420187 865.426953 
L 1208.665781 876.01333 
L 1388.729974 948.434925 
L 1439.975998 939.779228 
z
" clip-path="url(#p88c99aa9cc)" style="fill: #14a8b7; fill-opacity: 0.6"/>
    <path d="M 1208.665781 876.01333 
L 1099.014496 898.442528 
L 1279.521672 966.880725 
L 1388.729974 948.434925 
z
" clip-path="url(#p88c99aa9cc)" style="fill: #14a8b7; fill-opacity: 0.6"/>
   </g>
   <g id="legend_3">
    <g id="patch_25">
     <path d="M 1561.399233 783.660933 
L 1646.07267 783.660933 
Q 1648.07267 783.660933 1648.07267 781.660933 
L 1648.07267 693.242183 
Q 1648.07267 691.242183 1646.07267 691.242183 
L 1561.399233 691.242183 
Q 1559.399233 691.242183 1559.399233 693.242183 
L 1559.399233 781.660933 
Q 1559.399233 783.660933 1561.399233 783.660933 
z
" style="fill: #ffffff; opacity: 0.8; stroke: #cccccc; stroke-linejoin: miter"/>
    </g>
    <g id="line2d_160">
     <path d="M 1563.399233 699.340621 
L 1573.399233 699.340621 
L 1583.399233 699.340621 
" style="fill: none; stroke: #ff7f0e; stroke-width: 4; stroke-linecap: square"/>
    </g>
    <g id="text_90">
     <text style="font-size: 10.400px; font-family: 'Liberation Sans'; text-anchor: start" x="1591.399233" y="702.840621" transform="rotate(-0 1591.399233 702.840621)" textLength="38.738" lengthAdjust="spacingAndGlyphs">BLAKE3</text>
    </g>
    <g id="line2d_161">
     <path d="M 1563.399233 714.288746 
L 1573.399233 714.288746 
L 1583.399233 714.288746 
" style="fill: none; stroke: #d62728; stroke-width: 4; stroke-linecap: square"/>
    </g>
    <g id="text_91">
     <text style="font-size: 10.400px; font-family: 'Liberation Sans'; text-anchor: start" x="1591.399233" y="717.788746" transform="rotate(-0 1591.399233 717.788746)" textLength="27.583" lengthAdjust="spacingAndGlyphs">XXH3</text>
    </g>
    <g id="line2d_162">
     <path d="M 1563.399233 729.236871 
L 1573.399233 729.236871 
L 1583.399233 729.236871 
" style="fill: none; stroke: #8c564b; stroke-width: 4; stroke-linecap: square"/>
    </g>
    <g id="text_92">
     <text style="font-size: 10.400px; font-family: 'Liberation Sans'; text-anchor: start" x="1591.399233" y="732.736871" transform="rotate(-0 1591.399233 732.736871)" textLength="43.180" lengthAdjust="spacingAndGlyphs">SHA-256</text>
    </g>
    <g id="line2d_163">
     <path d="M 1563.399233 744.184996 
L 1573.399233 744.184996 
L 1583.399233 744.184996 
" style="fill: none; stroke: #e377c2; stroke-width: 4; stroke-linecap: square"/>
    </g>
    <g id="text_93">
     <text style="font-size: 10.400px; font-family: 'Liberation Sans'; text-anchor: start" x="1591.399233" y="747.684996" transform="rotate(-0 1591.399233 747.684996)" textLength="42.281" lengthAdjust="spacingAndGlyphs">CPHDSD</text>
    </g>
    <g id="line2d_164">
     <path d="M 1563.399233 759.133121 
L 1573.399233 759.133121 
L 1583.399233 759.133121 
" style="fill: none; stroke: #bcbd22; stroke-width: 4; stroke-linecap: square"/>
    </g>
    <g id="text_94">
     <text style="font-size: 10.400px; font-family: 'Liberation Sans'; text-anchor: start" x="1591.399233" y="762.633121" transform="rotate(-0 1591.399233 762.633121)" textLength="36.700" lengthAdjust="spacingAndGlyphs">Ref[27]</text>
    </g>
    <g id="line2d_165">
     <path d="M 1563.399233 774.081246 
L 1573.399233 774.081246 
L 1583.399233 774.081246 
" style="fill: none; stroke: #17becf; stroke-width: 4; stroke-linecap: square"/>
    </g>
    <g id="text_95">
     <text style="font-size: 10.400px; font-family: 'Liberation Sans'; text-anchor: start" x="1591.399233" y="777.581246" transform="rotate(-0 1591.399233 777.581246)" textLength="52.673" lengthAdjust="spacingAndGlyphs">SHAKE256</text>
    </g>
   </g>
   <g id="Poly3DCollection_4">
    <path d="M 1279.500615 851.501487 
L 1267.092843 855.684086 
L 1268.759563 854.117996 
L 1281.171567 851.078666 
z
" clip-path="url(#p88c99aa9cc)" style="fill: #afaf20; fill-opacity: 0.6"/>
    <path d="M 1281.171567 851.078666 
L 1268.759563 854.117996 
L 1285.580547 859.078446 
L 1297.987007 857.144504 
z
" clip-path="url(#p88c99aa9cc)" style="fill: #a7a71e; fill-opacity: 0.6"/>
    <path d="M 1267.092843 855.684086 
L 1241.954023 864.158259 
L 1243.597014 860.279553 
L 1268.759563 854.117996 
z
" clip-path="url(#p88c99aa9cc)" style="fill: #b4b521; fill-opacity: 0.6"/>
    <path d="M 1268.759563 854.117996 
L 1243.597014 860.279553 
L 1260.412252 863.001725 
L 1285.580547 859.078446 
z
" clip-path="url(#p88c99aa9cc)" style="fill: #a7a81e; fill-opacity: 0.6"/>
    <path d="M 1241.954023 864.158259 
L 1190.34328 881.555987 
L 1191.873868 872.94501 
L 1243.597014 860.279553 
z
" clip-path="url(#p88c99aa9cc)" style="fill: #b8b921; fill-opacity: 0.6"/>
    <path d="M 1243.597014 860.279553 
L 1191.873868 872.94501 
L 1208.605736 871.077417 
L 1260.412252 863.001725 
z
" clip-path="url(#p88c99aa9cc)" style="fill: #a8a91e; fill-opacity: 0.6"/>
    <path d="M 1297.987007 857.144504 
L 1285.580547 859.078446 
L 1464.873006 933.906414 
L 1477.081149 932.682526 
z
" clip-path="url(#p88c99aa9cc)" style="fill: #a6a71e; fill-opacity: 0.6"/>
    <path d="M 1285.580547 859.078446 
L 1260.412252 863.001725 
L 1440.070337 936.392926 
L 1464.873006 933.906414 
z
" clip-path="url(#p88c99aa9cc)" style="fill: #a6a71e; fill-opacity: 0.6"/>
    <path d="M 1190.34328 881.555987 
L 1081.447385 918.264257 
L 1082.458941 899.737463 
L 1191.873868 872.94501 
z
" clip-path="url(#p88c99aa9cc)" style="fill: #b6b721; fill-opacity: 0.6"/>
    <path d="M 1191.873868 872.94501 
L 1082.458941 899.737463 
L 1098.696141 888.210322 
L 1208.605736 871.077417 
z
" clip-path="url(#p88c99aa9cc)" style="fill: #aaab1f; fill-opacity: 0.6"/>
    <path d="M 1260.412252 863.001725 
L 1208.605736 871.077417 
L 1388.861164 941.526736 
L 1440.070337 936.392926 
z
" clip-path="url(#p88c99aa9cc)" style="fill: #a6a71e; fill-opacity: 0.6"/>
    <path d="M 1208.605736 871.077417 
L 1098.696141 888.210322 
L 1279.5217 952.48821 
L 1388.861164 941.526736 
z
" clip-path="url(#p88c99aa9cc)" style="fill: #a6a71e; fill-opacity: 0.6"/>
   </g>
   <g id="Poly3DCollection_5">
    <path d="M 1279.500614 850.958707 
L 1267.090528 854.59453 
L 1268.755549 851.935826 
L 1281.171875 849.992113 
z
" clip-path="url(#p88c99aa9cc)" style="fill: #c72425; fill-opacity: 0.6"/>
    <path d="M 1281.171875 849.992113 
L 1268.755549 851.935826 
L 1285.583967 855.787765 
L 1297.992186 855.506829 
z
" clip-path="url(#p88c99aa9cc)" style="fill: #be2323; fill-opacity: 0.6"/>
    <path d="M 1267.090528 854.59453 
L 1241.939895 861.962992 
L 1243.569947 855.878504 
L 1268.755549 851.935826 
z
" clip-path="url(#p88c99aa9cc)" style="fill: #cd2526; fill-opacity: 0.6"/>
    <path d="M 1268.755549 851.935826 
L 1243.569947 855.878504 
L 1260.390514 856.358173 
L 1285.583967 855.787765 
z
" clip-path="url(#p88c99aa9cc)" style="fill: #be2324; fill-opacity: 0.6"/>
    <path d="M 1241.939895 861.962992 
L 1190.274981 877.099429 
L 1191.739217 863.992341 
L 1243.569947 855.878504 
z
" clip-path="url(#p88c99aa9cc)" style="fill: #d22627; fill-opacity: 0.6"/>
    <path d="M 1243.569947 855.878504 
L 1191.739217 863.992341 
L 1208.440987 857.534368 
L 1260.390514 856.358173 
z
" clip-path="url(#p88c99aa9cc)" style="fill: #bf2324; fill-opacity: 0.6"/>
    <path d="M 1297.992186 855.506829 
L 1285.583967 855.787765 
L 1465.020597 929.315498 
L 1477.159365 930.399417 
z
" clip-path="url(#p88c99aa9cc)" style="fill: #bd2223; fill-opacity: 0.6"/>
    <path d="M 1285.583967 855.787765 
L 1260.390514 856.358173 
L 1440.328929 927.110681 
L 1465.020597 929.315498 
z
" clip-path="url(#p88c99aa9cc)" style="fill: #bd2223; fill-opacity: 0.6"/>
    <path d="M 1190.274981 877.099429 
L 1081.132585 909.075228 
L 1081.829081 881.198214 
L 1191.739217 863.992341 
z
" clip-path="url(#p88c99aa9cc)" style="fill: #cf2627; fill-opacity: 0.6"/>
    <path d="M 1191.739217 863.992341 
L 1081.829081 881.198214 
L 1097.819644 860.038958 
L 1208.440987 857.534368 
z
" clip-path="url(#p88c99aa9cc)" style="fill: #c12324; fill-opacity: 0.6"/>
    <path d="M 1260.390514 856.358173 
L 1208.440987 857.534368 
L 1389.221595 922.547105 
L 1440.328929 927.110681 
z
" clip-path="url(#p88c99aa9cc)" style="fill: #bd2223; fill-opacity: 0.6"/>
    <path d="M 1208.440987 857.534368 
L 1097.819644 860.038958 
L 1279.521778 912.751573 
L 1389.221595 922.547105 
z
" clip-path="url(#p88c99aa9cc)" style="fill: #bd2323; fill-opacity: 0.6"/>
   </g>
   <g id="Poly3DCollection_6">
    <path d="M 1279.500612 849.552003 
L 1267.084526 851.769818 
L 1268.745138 846.274677 
L 1281.172675 847.175195 
z
" clip-path="url(#p88c99aa9cc)" style="fill: #d36eb4; fill-opacity: 0.6"/>
    <path d="M 1281.172675 847.175195 
L 1268.745138 846.274677 
L 1285.592845 847.245001 
L 1298.005617 851.259669 
z
" clip-path="url(#p88c99aa9cc)" style="fill: #c969ac; fill-opacity: 0.6"/>
    <path d="M 1267.084526 851.769818 
L 1241.903242 856.267806 
L 1243.499632 844.445351 
L 1268.745138 846.274677 
z
" clip-path="url(#p88c99aa9cc)" style="fill: #d972ba; fill-opacity: 0.6"/>
    <path d="M 1268.745138 846.274677 
L 1243.499632 844.445351 
L 1260.333964 839.075509 
L 1285.592845 847.245001 
z
" clip-path="url(#p88c99aa9cc)" style="fill: #ca6aac; fill-opacity: 0.6"/>
    <path d="M 1241.903242 856.267806 
L 1190.097543 865.521562 
L 1191.388432 840.669296 
L 1243.499632 844.445351 
z
" clip-path="url(#p88c99aa9cc)" style="fill: #de75be; fill-opacity: 0.6"/>
    <path d="M 1243.499632 844.445351 
L 1191.388432 840.669296 
L 1208.010573 822.152531 
L 1260.333964 839.075509 
z
" clip-path="url(#p88c99aa9cc)" style="fill: #cb6aad; fill-opacity: 0.6"/>
    <path d="M 1298.005617 851.259669 
L 1285.592845 847.245001 
L 1465.404072 917.387281 
L 1477.362296 924.475923 
z
" clip-path="url(#p88c99aa9cc)" style="fill: #c969ab; fill-opacity: 0.6"/>
    <path d="M 1285.592845 847.245001 
L 1260.333964 839.075509 
L 1441.002781 902.922591 
L 1465.404072 917.387281 
z
" clip-path="url(#p88c99aa9cc)" style="fill: #c969ab; fill-opacity: 0.6"/>
    <path d="M 1190.097543 865.521562 
L 1080.312327 885.131867 
L 1080.178354 832.61085 
L 1191.388432 840.669296 
z
" clip-path="url(#p88c99aa9cc)" style="fill: #dc73bc; fill-opacity: 0.6"/>
    <path d="M 1191.388432 840.669296 
L 1080.178354 832.61085 
L 1095.508785 785.766027 
L 1208.010573 822.152531 
z
" clip-path="url(#p88c99aa9cc)" style="fill: #cd6baf; fill-opacity: 0.6"/>
    <path d="M 1260.333964 839.075509 
L 1208.010573 822.152531 
L 1390.166547 872.787695 
L 1441.002781 902.922591 
z
" clip-path="url(#p88c99aa9cc)" style="fill: #c969ac; fill-opacity: 0.6"/>
    <path d="M 1208.010573 822.152531 
L 1095.508785 785.766027 
L 1279.521986 807.199392 
L 1390.166547 872.787695 
z
" clip-path="url(#p88c99aa9cc)" style="fill: #c969ac; fill-opacity: 0.6"/>
   </g>
  </g>
 </g>
 <defs>
  <clipPath id="p1c3994e8c0">
   <rect x="78.965321" y="16.529278" width="649.928937" height="507.035247"/>
  </clipPath>
  <clipPath id="pcee9055a3c">
   <rect x="947.555429" y="16.444002" width="650.653781" height="506.864696"/>
  </clipPath>
  <clipPath id="p5d75e253c4">
   <rect x="78.837408" y="585.702103" width="520.224559" height="505.542922"/>
  </clipPath>
  <clipPath id="p3586d7a423">
   <rect x="631.18249" y="585.744741" width="25.86697" height="505.500284"/>
  </clipPath>
  <clipPath id="p88c99aa9cc">
   <rect x="1019.542354" y="584.991472" width="506.253553" height="506.253553"/>
  </clipPath>
 </defs>
</svg>

</body></html>
